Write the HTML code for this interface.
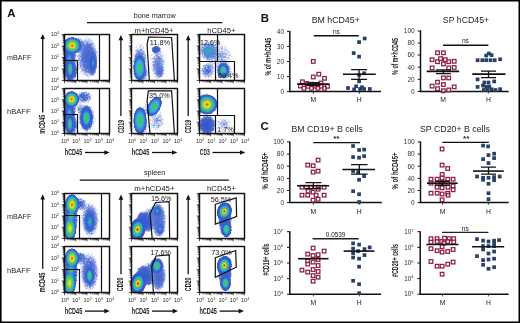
<!DOCTYPE html><html><head><meta charset="utf-8"><style>html,body{margin:0;padding:0;background:#fff;}svg{display:block;will-change:transform;}text{font-family:"Liberation Sans", sans-serif;}</style></head><body>
<svg xmlns="http://www.w3.org/2000/svg" width="520" height="323" viewBox="0 0 520 323">
<defs><radialGradient id="g_red" cx="50%" cy="50%" r="50%"><stop offset="0" stop-color="#d0141c" stop-opacity="1"/><stop offset="0.07" stop-color="#e6361c" stop-opacity="1"/><stop offset="0.13" stop-color="#f09a20" stop-opacity="1"/><stop offset="0.19" stop-color="#ebe22a" stop-opacity="1"/><stop offset="0.27" stop-color="#9ad23c" stop-opacity="1"/><stop offset="0.34" stop-color="#4cc24a" stop-opacity="1"/><stop offset="0.42" stop-color="#36c0a8" stop-opacity="1"/><stop offset="0.5" stop-color="#2eb0dc" stop-opacity="1"/><stop offset="0.6" stop-color="#2f78d4" stop-opacity="1"/><stop offset="0.72" stop-color="#3358c8" stop-opacity="1"/><stop offset="0.86" stop-color="#3858c6" stop-opacity="0.8"/><stop offset="1" stop-color="#5c7ad6" stop-opacity="0"/></radialGradient><radialGradient id="g_orange" cx="50%" cy="50%" r="50%"><stop offset="0" stop-color="#ea4a1a" stop-opacity="1"/><stop offset="0.09" stop-color="#f2b41e" stop-opacity="1"/><stop offset="0.17" stop-color="#e6e42c" stop-opacity="1"/><stop offset="0.27" stop-color="#6cc640" stop-opacity="1"/><stop offset="0.37" stop-color="#36c0a8" stop-opacity="1"/><stop offset="0.47" stop-color="#2eb0dc" stop-opacity="1"/><stop offset="0.58" stop-color="#2f78d4" stop-opacity="1"/><stop offset="0.72" stop-color="#3358c8" stop-opacity="1"/><stop offset="0.86" stop-color="#3858c6" stop-opacity="0.8"/><stop offset="1" stop-color="#5c7ad6" stop-opacity="0"/></radialGradient><radialGradient id="g_yellow" cx="50%" cy="50%" r="50%"><stop offset="0" stop-color="#e4e228" stop-opacity="1"/><stop offset="0.13" stop-color="#b8da34" stop-opacity="1"/><stop offset="0.27" stop-color="#58c446" stop-opacity="1"/><stop offset="0.4" stop-color="#34bcb8" stop-opacity="1"/><stop offset="0.52" stop-color="#2f8ad6" stop-opacity="1"/><stop offset="0.66" stop-color="#3360cc" stop-opacity="1"/><stop offset="0.84" stop-color="#3a5cc8" stop-opacity="0.75"/><stop offset="1" stop-color="#5c7ad6" stop-opacity="0"/></radialGradient><radialGradient id="g_green" cx="50%" cy="50%" r="50%"><stop offset="0" stop-color="#5ac640" stop-opacity="1"/><stop offset="0.18" stop-color="#44c266" stop-opacity="1"/><stop offset="0.32" stop-color="#34bcb0" stop-opacity="1"/><stop offset="0.45" stop-color="#2f9ad8" stop-opacity="1"/><stop offset="0.58" stop-color="#3164cc" stop-opacity="1"/><stop offset="0.8" stop-color="#3a5cc8" stop-opacity="0.75"/><stop offset="1" stop-color="#5c7ad6" stop-opacity="0"/></radialGradient><radialGradient id="g_teal" cx="50%" cy="50%" r="50%"><stop offset="0" stop-color="#38b0b8" stop-opacity="1"/><stop offset="0.25" stop-color="#2f98d0" stop-opacity="1"/><stop offset="0.5" stop-color="#3068cc" stop-opacity="1"/><stop offset="0.78" stop-color="#3a5cc8" stop-opacity="0.75"/><stop offset="1" stop-color="#5c7ad6" stop-opacity="0"/></radialGradient><radialGradient id="g_cyan" cx="50%" cy="50%" r="50%"><stop offset="0" stop-color="#4cb6e4" stop-opacity="1"/><stop offset="0.28" stop-color="#3f8cdc" stop-opacity="1"/><stop offset="0.55" stop-color="#3462cc" stop-opacity="0.95"/><stop offset="0.8" stop-color="#3a5cc8" stop-opacity="0.65"/><stop offset="1" stop-color="#5c7ad6" stop-opacity="0"/></radialGradient><radialGradient id="g_blue" cx="50%" cy="50%" r="50%"><stop offset="0" stop-color="#3356c8" stop-opacity="0.95"/><stop offset="0.5" stop-color="#3a5ecc" stop-opacity="0.85"/><stop offset="0.8" stop-color="#4a6ad0" stop-opacity="0.55"/><stop offset="1" stop-color="#6a86dc" stop-opacity="0"/></radialGradient><radialGradient id="g_lblue" cx="50%" cy="50%" r="50%"><stop offset="0" stop-color="#3f62cc" stop-opacity="0.8"/><stop offset="0.55" stop-color="#4c6cd2" stop-opacity="0.55"/><stop offset="1" stop-color="#7a94e0" stop-opacity="0"/></radialGradient><radialGradient id="g_faint" cx="50%" cy="50%" r="50%"><stop offset="0" stop-color="#5a78d6" stop-opacity="0.55"/><stop offset="0.6" stop-color="#7088da" stop-opacity="0.32"/><stop offset="1" stop-color="#9ab0ea" stop-opacity="0"/></radialGradient><radialGradient id="g_tealspk" cx="50%" cy="50%" r="50%"><stop offset="0" stop-color="#38a8bc" stop-opacity="0.92"/><stop offset="0.4" stop-color="#4690d0" stop-opacity="0.72"/><stop offset="0.75" stop-color="#5a80d8" stop-opacity="0.45"/><stop offset="1" stop-color="#7a94e0" stop-opacity="0"/></radialGradient><radialGradient id="g_mblue" cx="50%" cy="50%" r="50%"><stop offset="0" stop-color="#4262cc" stop-opacity="0.72"/><stop offset="0.5" stop-color="#5272d2" stop-opacity="0.52"/><stop offset="1" stop-color="#7a94e0" stop-opacity="0"/></radialGradient><radialGradient id="g_greencol" cx="50%" cy="50%" r="50%"><stop offset="0" stop-color="#50c450" stop-opacity="0.95"/><stop offset="0.35" stop-color="#3cbf90" stop-opacity="0.85"/><stop offset="0.7" stop-color="#30a8d8" stop-opacity="0.45"/><stop offset="1" stop-color="#3070d0" stop-opacity="0"/></radialGradient><radialGradient id="g_ywide" cx="50%" cy="50%" r="50%"><stop offset="0" stop-color="#e8e428" stop-opacity="1"/><stop offset="0.2" stop-color="#c4dc30" stop-opacity="1"/><stop offset="0.38" stop-color="#6cc840" stop-opacity="1"/><stop offset="0.52" stop-color="#3cc088" stop-opacity="1"/><stop offset="0.64" stop-color="#30acd8" stop-opacity="1"/><stop offset="0.76" stop-color="#3070d0" stop-opacity="1"/><stop offset="0.9" stop-color="#3858c6" stop-opacity="0.75"/><stop offset="1" stop-color="#5c7ad6" stop-opacity="0"/></radialGradient><radialGradient id="g_gwide" cx="50%" cy="50%" r="50%"><stop offset="0" stop-color="#5ac444" stop-opacity="1"/><stop offset="0.22" stop-color="#46c070" stop-opacity="1"/><stop offset="0.38" stop-color="#36bcb0" stop-opacity="1"/><stop offset="0.52" stop-color="#32ace0" stop-opacity="1"/><stop offset="0.66" stop-color="#3a88dc" stop-opacity="1"/><stop offset="0.8" stop-color="#3360cc" stop-opacity="1"/><stop offset="0.92" stop-color="#3858c6" stop-opacity="0.7"/><stop offset="1" stop-color="#5c7ad6" stop-opacity="0"/></radialGradient><radialGradient id="g_wide" cx="50%" cy="50%" r="50%"><stop offset="0" stop-color="#dc2a1c" stop-opacity="1"/><stop offset="0.08" stop-color="#ee6a1e" stop-opacity="1"/><stop offset="0.18" stop-color="#f0d024" stop-opacity="1"/><stop offset="0.3" stop-color="#cfe030" stop-opacity="1"/><stop offset="0.42" stop-color="#72c842" stop-opacity="1"/><stop offset="0.54" stop-color="#40c07a" stop-opacity="1"/><stop offset="0.64" stop-color="#30b0d4" stop-opacity="1"/><stop offset="0.76" stop-color="#3070d0" stop-opacity="1"/><stop offset="0.9" stop-color="#3858c6" stop-opacity="0.75"/><stop offset="1" stop-color="#5c7ad6" stop-opacity="0"/></radialGradient><filter id="dots" filterUnits="userSpaceOnUse" x="0" y="0" width="520" height="323" color-interpolation-filters="sRGB"><feTurbulence type="fractalNoise" baseFrequency="0.6" numOctaves="2" seed="7" result="t"/><feColorMatrix in="t" type="matrix" values="0 0 0 0 0 0 0 0 0 0 0 0 0 0 0 1 0 0 0 0" result="n"/><feComposite in="SourceAlpha" in2="n" operator="arithmetic" k1="0" k2="2.2" k3="1.6" k4="-1.3" result="m"/><feComponentTransfer in="SourceGraphic" result="solid"><feFuncA type="table" tableValues="0 1 1 1 1 1 1 1 1 1 1 1 1 1 1 1 1 1 1 1"/></feComponentTransfer><feComposite in="solid" in2="m" operator="in"/></filter></defs>
<rect width="520" height="323" fill="#fff"/>
<text x="7.2" y="17.3" font-size="11.4" text-anchor="start" font-weight="bold" fill="#111">A</text>
<text x="133.7" y="17.8" font-size="7" text-anchor="start" textLength="42" lengthAdjust="spacingAndGlyphs" fill="#222">bone marrow</text>
<path d="M87 22.7H222.3" stroke="#111" stroke-width="1.3"/>
<text x="134.6" y="32.8" font-size="6.6" text-anchor="start" textLength="38.8" lengthAdjust="spacingAndGlyphs" fill="#222">m+hCD45+</text>
<text x="207.3" y="32.8" font-size="6.6" text-anchor="start" textLength="28.2" lengthAdjust="spacingAndGlyphs" fill="#222">hCD45+</text>
<text x="143.9" y="175.4" font-size="7" text-anchor="start" textLength="21.5" lengthAdjust="spacingAndGlyphs" fill="#222">spleen</text>
<path d="M79.7 180.2H228.9" stroke="#111" stroke-width="1.3"/>
<text x="134.3" y="190.9" font-size="6.6" text-anchor="start" textLength="40.2" lengthAdjust="spacingAndGlyphs" fill="#222">m+hCD45+</text>
<text x="207" y="190.9" font-size="6.6" text-anchor="start" textLength="28.8" lengthAdjust="spacingAndGlyphs" fill="#222">hCD45+</text>
<text x="7" y="59.9" font-size="8" text-anchor="start" textLength="24.4" lengthAdjust="spacingAndGlyphs" fill="#2a2a2a">mBAFF</text>
<text x="7" y="113.9" font-size="8" text-anchor="start" textLength="23.6" lengthAdjust="spacingAndGlyphs" fill="#2a2a2a">hBAFF</text>
<text x="7" y="218.5" font-size="8" text-anchor="start" textLength="24.4" lengthAdjust="spacingAndGlyphs" fill="#2a2a2a">mBAFF</text>
<text x="7" y="272.5" font-size="8" text-anchor="start" textLength="23.6" lengthAdjust="spacingAndGlyphs" fill="#2a2a2a">hBAFF</text>
<path d="M42.7 36.9V112.5" stroke="#111" stroke-width="1.3"/><path d="M42.7 33.9L40.4 39.1L45 39.1Z" fill="#111"/>
<text x="0" y="0" font-size="6.6" font-weight="bold" textLength="18.9" lengthAdjust="spacingAndGlyphs" text-anchor="middle" fill="#222" transform="translate(45.3 124.2) rotate(-90) scale(1 1.25)">mCD45</text>
<path d="M120.9 38V116.1" stroke="#111" stroke-width="1.3"/><path d="M120.9 35L118.6 40.2L123.2 40.2Z" fill="#111"/>
<text x="0" y="0" font-size="6.6" font-weight="bold" textLength="13.4" lengthAdjust="spacingAndGlyphs" text-anchor="middle" fill="#222" transform="translate(123.6 126.5) rotate(-90) scale(1 1.25)">CD19</text>
<path d="M188.2 38V116.1" stroke="#111" stroke-width="1.3"/><path d="M188.2 35L185.9 40.2L190.5 40.2Z" fill="#111"/>
<text x="0" y="0" font-size="6.6" font-weight="bold" textLength="13.4" lengthAdjust="spacingAndGlyphs" text-anchor="middle" fill="#222" transform="translate(190.9 126.5) rotate(-90) scale(1 1.25)">CD19</text>
<path d="M42.7 197.3V268.8" stroke="#111" stroke-width="1.3"/><path d="M42.7 194.3L40.4 199.5L45 199.5Z" fill="#111"/>
<text x="0" y="0" font-size="6.6" font-weight="bold" textLength="19.9" lengthAdjust="spacingAndGlyphs" text-anchor="middle" fill="#222" transform="translate(44.8 282.5) rotate(-90) scale(1 1.25)">mCD45</text>
<path d="M121 197.5V274.2" stroke="#111" stroke-width="1.3"/><path d="M121 194.5L118.7 199.7L123.3 199.7Z" fill="#111"/>
<text x="0" y="0" font-size="6.6" font-weight="bold" textLength="13.9" lengthAdjust="spacingAndGlyphs" text-anchor="middle" fill="#222" transform="translate(123.4 284.3) rotate(-90) scale(1 1.25)">CD20</text>
<path d="M188.2 197.5V274.2" stroke="#111" stroke-width="1.3"/><path d="M188.2 194.5L185.9 199.7L190.5 199.7Z" fill="#111"/>
<text x="0" y="0" font-size="6.6" font-weight="bold" textLength="13.9" lengthAdjust="spacingAndGlyphs" text-anchor="middle" fill="#222" transform="translate(190.6 284.3) rotate(-90) scale(1 1.25)">CD20</text>
<text x="0" y="0" font-size="6.6" font-weight="bold" textLength="17.4" lengthAdjust="spacingAndGlyphs" fill="#222" transform="translate(64.8 154.8) scale(1 1.25)">hCD45</text>
<path d="M85 152.5H106.7" stroke="#111" stroke-width="1.3"/><path d="M109.7 152.5L104.4 150.2L104.4 154.8Z" fill="#111"/>
<text x="0" y="0" font-size="6.6" font-weight="bold" textLength="17.4" lengthAdjust="spacingAndGlyphs" fill="#222" transform="translate(131.8 154.8) scale(1 1.25)">hCD45</text>
<path d="M152 152.5H174.3" stroke="#111" stroke-width="1.3"/><path d="M177.3 152.5L172 150.2L172 154.8Z" fill="#111"/>
<text x="0" y="0" font-size="6.6" font-weight="bold" textLength="10" lengthAdjust="spacingAndGlyphs" fill="#222" transform="translate(199.8 154.8) scale(1 1.25)">CD3</text>
<path d="M212.6 152.5H242.3" stroke="#111" stroke-width="1.3"/><path d="M245.3 152.5L240 150.2L240 154.8Z" fill="#111"/>
<text x="0" y="0" font-size="6.6" font-weight="bold" textLength="17.4" lengthAdjust="spacingAndGlyphs" fill="#222" transform="translate(64.8 313.8) scale(1 1.25)">hCD45</text>
<path d="M85 311.1H106.7" stroke="#111" stroke-width="1.3"/><path d="M109.7 311.1L104.4 308.8L104.4 313.4Z" fill="#111"/>
<text x="0" y="0" font-size="6.6" font-weight="bold" textLength="17.4" lengthAdjust="spacingAndGlyphs" fill="#222" transform="translate(131.8 313.8) scale(1 1.25)">hCD45</text>
<path d="M152 311.1H175" stroke="#111" stroke-width="1.3"/><path d="M178 311.1L172.7 308.8L172.7 313.4Z" fill="#111"/>
<text x="0" y="0" font-size="6.6" font-weight="bold" textLength="17.4" lengthAdjust="spacingAndGlyphs" fill="#222" transform="translate(199.5 313.8) scale(1 1.25)">hCD45</text>
<path d="M219.7 311.1H241" stroke="#111" stroke-width="1.3"/><path d="M244 311.1L238.7 308.8L238.7 313.4Z" fill="#111"/>
<clipPath id="c64_34"><rect x="64.5" y="34.5" width="45" height="46"/></clipPath><g clip-path="url(#c64_34)"><g filter="url(#dots)"><ellipse cx="85.5" cy="57" rx="15" ry="25" fill="url(#g_faint)"/><ellipse cx="88.5" cy="58" rx="10.5" ry="22" fill="url(#g_lblue)"/><ellipse cx="92.5" cy="63" rx="5" ry="14" fill="url(#g_blue)"/><ellipse cx="93" cy="63" rx="2.2" ry="8" fill="url(#g_cyan)"/><ellipse cx="69" cy="60" rx="7.5" ry="24" fill="url(#g_blue)"/><ellipse cx="71" cy="71" rx="7" ry="11" fill="url(#g_blue)"/><ellipse cx="77" cy="45" rx="9" ry="9" fill="url(#g_lblue)"/><ellipse cx="69.5" cy="59" rx="5" ry="11" fill="url(#g_cyan)"/><ellipse cx="72.2" cy="45.5" rx="9.5" ry="8.8" fill="url(#g_wide)"/><ellipse cx="70.1" cy="69" rx="4.5" ry="11.5" fill="url(#g_green)"/></g></g><rect x="64.5" y="34.5" width="45" height="46" fill="none" stroke="#111" stroke-width="1.45"/><path d="M64.5 80.5h-2.8 M64.5 77.0382h-1.8 M64.5 75.0131h-1.8 M64.5 73.5763h-1.8 M64.5 72.4618h-1.8 M64.5 71.5513h-1.8 M64.5 70.7814h-1.8 M64.5 70.1145h-1.8 M64.5 69.5262h-1.8 M64.5 69h-2.8 M64.5 65.5382h-1.8 M64.5 63.5131h-1.8 M64.5 62.0763h-1.8 M64.5 60.9618h-1.8 M64.5 60.0513h-1.8 M64.5 59.2814h-1.8 M64.5 58.6145h-1.8 M64.5 58.0262h-1.8 M64.5 57.5h-2.8 M64.5 54.0382h-1.8 M64.5 52.0131h-1.8 M64.5 50.5763h-1.8 M64.5 49.4618h-1.8 M64.5 48.5513h-1.8 M64.5 47.7814h-1.8 M64.5 47.1145h-1.8 M64.5 46.5262h-1.8 M64.5 46h-2.8 M64.5 42.5382h-1.8 M64.5 40.5131h-1.8 M64.5 39.0763h-1.8 M64.5 37.9618h-1.8 M64.5 37.0513h-1.8 M64.5 36.2814h-1.8 M64.5 35.6145h-1.8 M64.5 35.0262h-1.8 M64.5 34.5h-2.8 M64.5 80.5v2.8 M67.8866 80.5v1.8 M69.8676 80.5v1.8 M71.2732 80.5v1.8 M72.3634 80.5v1.8 M73.2542 80.5v1.8 M74.0074 80.5v1.8 M74.6598 80.5v1.8 M75.2352 80.5v1.8 M75.75 80.5v2.8 M79.1366 80.5v1.8 M81.1176 80.5v1.8 M82.5232 80.5v1.8 M83.6134 80.5v1.8 M84.5042 80.5v1.8 M85.2574 80.5v1.8 M85.9098 80.5v1.8 M86.4852 80.5v1.8 M87 80.5v2.8 M90.3866 80.5v1.8 M92.3676 80.5v1.8 M93.7732 80.5v1.8 M94.8634 80.5v1.8 M95.7542 80.5v1.8 M96.5074 80.5v1.8 M97.1598 80.5v1.8 M97.7352 80.5v1.8 M98.25 80.5v2.8 M101.637 80.5v1.8 M103.618 80.5v1.8 M105.023 80.5v1.8 M106.113 80.5v1.8 M107.004 80.5v1.8 M107.757 80.5v1.8 M108.41 80.5v1.8 M108.985 80.5v1.8 M109.5 80.5v2.8" stroke="#222" stroke-width="0.75" fill="none"/><polygon points="64.5,34.5 99.5,34.5 99.5,80.5 64.5,80.5" fill="none" stroke="#111" stroke-width="1.2"/><polygon points="64.5,60.5 77.5,60.5 77.5,80.5 64.5,80.5" fill="none" stroke="#111" stroke-width="1.2"/><text x="59.1" y="82.4" font-size="5.4" fill="#2a2a2a" text-anchor="end">10<tspan font-size="3.6" dy="-2">0</tspan></text><text x="59.1" y="70.9" font-size="5.4" fill="#2a2a2a" text-anchor="end">10<tspan font-size="3.6" dy="-2">1</tspan></text><text x="59.1" y="59.4" font-size="5.4" fill="#2a2a2a" text-anchor="end">10<tspan font-size="3.6" dy="-2">2</tspan></text><text x="59.1" y="47.9" font-size="5.4" fill="#2a2a2a" text-anchor="end">10<tspan font-size="3.6" dy="-2">3</tspan></text><text x="59.1" y="36.4" font-size="5.4" fill="#2a2a2a" text-anchor="end">10<tspan font-size="3.6" dy="-2">4</tspan></text>
<clipPath id="c64_88"><rect x="64.5" y="88.5" width="45" height="45"/></clipPath><g clip-path="url(#c64_88)"><g filter="url(#dots)"><ellipse cx="84" cy="97" rx="10" ry="7.5" fill="url(#g_lblue)"/><ellipse cx="79" cy="108" rx="5" ry="7" fill="url(#g_faint)"/><ellipse cx="86.4" cy="118" rx="10.5" ry="17.5" fill="url(#g_lblue)"/><ellipse cx="86.4" cy="118" rx="7" ry="13" fill="url(#g_green)"/><ellipse cx="69" cy="113" rx="7.5" ry="23" fill="url(#g_blue)"/><ellipse cx="71" cy="125" rx="7" ry="10" fill="url(#g_blue)"/><ellipse cx="69.5" cy="113" rx="5" ry="10" fill="url(#g_cyan)"/><ellipse cx="71.6" cy="99.3" rx="7.8" ry="8.5" fill="url(#g_wide)"/><ellipse cx="69.9" cy="124" rx="4.2" ry="11" fill="url(#g_green)"/></g></g><rect x="64.5" y="88.5" width="45" height="45" fill="none" stroke="#111" stroke-width="1.45"/><path d="M64.5 133.5h-2.8 M64.5 130.113h-1.8 M64.5 128.132h-1.8 M64.5 126.727h-1.8 M64.5 125.637h-1.8 M64.5 124.746h-1.8 M64.5 123.993h-1.8 M64.5 123.34h-1.8 M64.5 122.765h-1.8 M64.5 122.25h-2.8 M64.5 118.863h-1.8 M64.5 116.882h-1.8 M64.5 115.477h-1.8 M64.5 114.387h-1.8 M64.5 113.496h-1.8 M64.5 112.743h-1.8 M64.5 112.09h-1.8 M64.5 111.515h-1.8 M64.5 111h-2.8 M64.5 107.613h-1.8 M64.5 105.632h-1.8 M64.5 104.227h-1.8 M64.5 103.137h-1.8 M64.5 102.246h-1.8 M64.5 101.493h-1.8 M64.5 100.84h-1.8 M64.5 100.265h-1.8 M64.5 99.75h-2.8 M64.5 96.3634h-1.8 M64.5 94.3824h-1.8 M64.5 92.9768h-1.8 M64.5 91.8866h-1.8 M64.5 90.9958h-1.8 M64.5 90.2426h-1.8 M64.5 89.5902h-1.8 M64.5 89.0148h-1.8 M64.5 88.5h-2.8 M64.5 133.5v2.8 M67.8866 133.5v1.8 M69.8676 133.5v1.8 M71.2732 133.5v1.8 M72.3634 133.5v1.8 M73.2542 133.5v1.8 M74.0074 133.5v1.8 M74.6598 133.5v1.8 M75.2352 133.5v1.8 M75.75 133.5v2.8 M79.1366 133.5v1.8 M81.1176 133.5v1.8 M82.5232 133.5v1.8 M83.6134 133.5v1.8 M84.5042 133.5v1.8 M85.2574 133.5v1.8 M85.9098 133.5v1.8 M86.4852 133.5v1.8 M87 133.5v2.8 M90.3866 133.5v1.8 M92.3676 133.5v1.8 M93.7732 133.5v1.8 M94.8634 133.5v1.8 M95.7542 133.5v1.8 M96.5074 133.5v1.8 M97.1598 133.5v1.8 M97.7352 133.5v1.8 M98.25 133.5v2.8 M101.637 133.5v1.8 M103.618 133.5v1.8 M105.023 133.5v1.8 M106.113 133.5v1.8 M107.004 133.5v1.8 M107.757 133.5v1.8 M108.41 133.5v1.8 M108.985 133.5v1.8 M109.5 133.5v2.8" stroke="#222" stroke-width="0.75" fill="none"/><polygon points="64.5,88.5 99.5,88.5 99.5,133.5 64.5,133.5" fill="none" stroke="#111" stroke-width="1.2"/><polygon points="64.5,114.5 77.5,114.5 77.5,133.5 64.5,133.5" fill="none" stroke="#111" stroke-width="1.2"/><text x="59.1" y="135.4" font-size="5.4" fill="#2a2a2a" text-anchor="end">10<tspan font-size="3.6" dy="-2">0</tspan></text><text x="59.1" y="124.15" font-size="5.4" fill="#2a2a2a" text-anchor="end">10<tspan font-size="3.6" dy="-2">1</tspan></text><text x="59.1" y="112.9" font-size="5.4" fill="#2a2a2a" text-anchor="end">10<tspan font-size="3.6" dy="-2">2</tspan></text><text x="59.1" y="101.65" font-size="5.4" fill="#2a2a2a" text-anchor="end">10<tspan font-size="3.6" dy="-2">3</tspan></text><text x="59.1" y="90.4" font-size="5.4" fill="#2a2a2a" text-anchor="end">10<tspan font-size="3.6" dy="-2">4</tspan></text><text x="65.1" y="143.1" font-size="5.5" fill="#2a2a2a" text-anchor="middle">10<tspan font-size="3.6" dy="-2">0</tspan></text><text x="76.35" y="143.1" font-size="5.5" fill="#2a2a2a" text-anchor="middle">10<tspan font-size="3.6" dy="-2">1</tspan></text><text x="87.6" y="143.1" font-size="5.5" fill="#2a2a2a" text-anchor="middle">10<tspan font-size="3.6" dy="-2">2</tspan></text><text x="98.85" y="143.1" font-size="5.5" fill="#2a2a2a" text-anchor="middle">10<tspan font-size="3.6" dy="-2">3</tspan></text><text x="110.1" y="143.1" font-size="5.5" fill="#2a2a2a" text-anchor="middle">10<tspan font-size="3.6" dy="-2">4</tspan></text>
<clipPath id="c131_34"><rect x="131.5" y="34.5" width="46" height="46"/></clipPath><g clip-path="url(#c131_34)"><g filter="url(#dots)"><ellipse cx="158" cy="62" rx="10" ry="20" fill="url(#g_faint)"/><ellipse cx="158" cy="66" rx="7" ry="14" fill="url(#g_faint)"/><ellipse cx="156" cy="49.5" rx="5" ry="4.2" fill="url(#g_blue)"/><ellipse cx="160" cy="72" rx="5" ry="8" fill="url(#g_mblue)"/><ellipse cx="140" cy="54" rx="8" ry="14" fill="url(#g_faint)"/><ellipse cx="140" cy="65" rx="9" ry="17" fill="url(#g_lblue)"/><ellipse cx="141" cy="74" rx="9.5" ry="8" fill="url(#g_lblue)"/><ellipse cx="139.5" cy="67.8" rx="6.3" ry="13" fill="url(#g_gwide)"/></g></g><rect x="131.5" y="34.5" width="46" height="46" fill="none" stroke="#111" stroke-width="1.45"/><path d="M131.5 80.5h-2.8 M131.5 77.0382h-1.8 M131.5 75.0131h-1.8 M131.5 73.5763h-1.8 M131.5 72.4618h-1.8 M131.5 71.5513h-1.8 M131.5 70.7814h-1.8 M131.5 70.1145h-1.8 M131.5 69.5262h-1.8 M131.5 69h-2.8 M131.5 65.5382h-1.8 M131.5 63.5131h-1.8 M131.5 62.0763h-1.8 M131.5 60.9618h-1.8 M131.5 60.0513h-1.8 M131.5 59.2814h-1.8 M131.5 58.6145h-1.8 M131.5 58.0262h-1.8 M131.5 57.5h-2.8 M131.5 54.0382h-1.8 M131.5 52.0131h-1.8 M131.5 50.5763h-1.8 M131.5 49.4618h-1.8 M131.5 48.5513h-1.8 M131.5 47.7814h-1.8 M131.5 47.1145h-1.8 M131.5 46.5262h-1.8 M131.5 46h-2.8 M131.5 42.5382h-1.8 M131.5 40.5131h-1.8 M131.5 39.0763h-1.8 M131.5 37.9618h-1.8 M131.5 37.0513h-1.8 M131.5 36.2814h-1.8 M131.5 35.6145h-1.8 M131.5 35.0262h-1.8 M131.5 34.5h-2.8 M131.5 80.5v2.8 M134.962 80.5v1.8 M136.987 80.5v1.8 M138.424 80.5v1.8 M139.538 80.5v1.8 M140.449 80.5v1.8 M141.219 80.5v1.8 M141.886 80.5v1.8 M142.474 80.5v1.8 M143 80.5v2.8 M146.462 80.5v1.8 M148.487 80.5v1.8 M149.924 80.5v1.8 M151.038 80.5v1.8 M151.949 80.5v1.8 M152.719 80.5v1.8 M153.386 80.5v1.8 M153.974 80.5v1.8 M154.5 80.5v2.8 M157.962 80.5v1.8 M159.987 80.5v1.8 M161.424 80.5v1.8 M162.538 80.5v1.8 M163.449 80.5v1.8 M164.219 80.5v1.8 M164.886 80.5v1.8 M165.474 80.5v1.8 M166 80.5v2.8 M169.462 80.5v1.8 M171.487 80.5v1.8 M172.924 80.5v1.8 M174.038 80.5v1.8 M174.949 80.5v1.8 M175.719 80.5v1.8 M176.386 80.5v1.8 M176.974 80.5v1.8 M177.5 80.5v2.8" stroke="#222" stroke-width="0.75" fill="none"/><polygon points="148.6,37 171.6,37.5 174.4,80.5 149.3,80.5 147.1,44.5" fill="none" stroke="#111" stroke-width="1.2"/><text x="149.7" y="44.6" font-size="6.7" textLength="20.5" lengthAdjust="spacingAndGlyphs" fill="#1a1a1a">11.8%</text>
<clipPath id="c131_88"><rect x="131.5" y="88.5" width="46" height="45"/></clipPath><g clip-path="url(#c131_88)"><g filter="url(#dots)"><ellipse cx="157" cy="121" rx="10" ry="14" fill="url(#g_faint)"/><ellipse cx="146" cy="110" rx="5" ry="10" fill="url(#g_faint)" transform="rotate(25 146 110)"/><ellipse cx="141" cy="126" rx="9" ry="9" fill="url(#g_lblue)"/><ellipse cx="154.3" cy="106.5" rx="6.5" ry="11" fill="url(#g_gwide)" transform="rotate(30 154.3 106.5)"/><ellipse cx="140" cy="120.5" rx="7" ry="14" fill="url(#g_gwide)"/></g></g><rect x="131.5" y="88.5" width="46" height="45" fill="none" stroke="#111" stroke-width="1.45"/><path d="M131.5 133.5h-2.8 M131.5 130.113h-1.8 M131.5 128.132h-1.8 M131.5 126.727h-1.8 M131.5 125.637h-1.8 M131.5 124.746h-1.8 M131.5 123.993h-1.8 M131.5 123.34h-1.8 M131.5 122.765h-1.8 M131.5 122.25h-2.8 M131.5 118.863h-1.8 M131.5 116.882h-1.8 M131.5 115.477h-1.8 M131.5 114.387h-1.8 M131.5 113.496h-1.8 M131.5 112.743h-1.8 M131.5 112.09h-1.8 M131.5 111.515h-1.8 M131.5 111h-2.8 M131.5 107.613h-1.8 M131.5 105.632h-1.8 M131.5 104.227h-1.8 M131.5 103.137h-1.8 M131.5 102.246h-1.8 M131.5 101.493h-1.8 M131.5 100.84h-1.8 M131.5 100.265h-1.8 M131.5 99.75h-2.8 M131.5 96.3634h-1.8 M131.5 94.3824h-1.8 M131.5 92.9768h-1.8 M131.5 91.8866h-1.8 M131.5 90.9958h-1.8 M131.5 90.2426h-1.8 M131.5 89.5902h-1.8 M131.5 89.0148h-1.8 M131.5 88.5h-2.8 M131.5 133.5v2.8 M134.962 133.5v1.8 M136.987 133.5v1.8 M138.424 133.5v1.8 M139.538 133.5v1.8 M140.449 133.5v1.8 M141.219 133.5v1.8 M141.886 133.5v1.8 M142.474 133.5v1.8 M143 133.5v2.8 M146.462 133.5v1.8 M148.487 133.5v1.8 M149.924 133.5v1.8 M151.038 133.5v1.8 M151.949 133.5v1.8 M152.719 133.5v1.8 M153.386 133.5v1.8 M153.974 133.5v1.8 M154.5 133.5v2.8 M157.962 133.5v1.8 M159.987 133.5v1.8 M161.424 133.5v1.8 M162.538 133.5v1.8 M163.449 133.5v1.8 M164.219 133.5v1.8 M164.886 133.5v1.8 M165.474 133.5v1.8 M166 133.5v2.8 M169.462 133.5v1.8 M171.487 133.5v1.8 M172.924 133.5v1.8 M174.038 133.5v1.8 M174.949 133.5v1.8 M175.719 133.5v1.8 M176.386 133.5v1.8 M176.974 133.5v1.8 M177.5 133.5v2.8" stroke="#222" stroke-width="0.75" fill="none"/><polygon points="148.3,90.8 171.6,90.8 174.4,133.5 150,133.5 147.1,101" fill="none" stroke="#111" stroke-width="1.2"/><text x="149.1" y="98.4" font-size="6.7" textLength="20.5" lengthAdjust="spacingAndGlyphs" fill="#1a1a1a">35.0%</text><text x="132.1" y="143.1" font-size="5.5" fill="#2a2a2a" text-anchor="middle">10<tspan font-size="3.6" dy="-2">0</tspan></text><text x="143.6" y="143.1" font-size="5.5" fill="#2a2a2a" text-anchor="middle">10<tspan font-size="3.6" dy="-2">1</tspan></text><text x="155.1" y="143.1" font-size="5.5" fill="#2a2a2a" text-anchor="middle">10<tspan font-size="3.6" dy="-2">2</tspan></text><text x="166.6" y="143.1" font-size="5.5" fill="#2a2a2a" text-anchor="middle">10<tspan font-size="3.6" dy="-2">3</tspan></text><text x="178.1" y="143.1" font-size="5.5" fill="#2a2a2a" text-anchor="middle">10<tspan font-size="3.6" dy="-2">4</tspan></text>
<clipPath id="c199_34"><rect x="199.5" y="34.5" width="45" height="46"/></clipPath><g clip-path="url(#c199_34)"><g filter="url(#dots)"><ellipse cx="220" cy="56" rx="16" ry="16" fill="url(#g_faint)"/><ellipse cx="208.5" cy="51" rx="10" ry="11" fill="url(#g_tealspk)"/><ellipse cx="207.6" cy="70.5" rx="9" ry="10" fill="url(#g_mblue)"/><ellipse cx="224" cy="71" rx="9" ry="10" fill="url(#g_lblue)"/><ellipse cx="223.3" cy="70.5" rx="6.5" ry="8.5" fill="url(#g_green)"/></g></g><rect x="199.5" y="34.5" width="45" height="46" fill="none" stroke="#111" stroke-width="1.45"/><path d="M199.5 80.5h-2.8 M199.5 77.0382h-1.8 M199.5 75.0131h-1.8 M199.5 73.5763h-1.8 M199.5 72.4618h-1.8 M199.5 71.5513h-1.8 M199.5 70.7814h-1.8 M199.5 70.1145h-1.8 M199.5 69.5262h-1.8 M199.5 69h-2.8 M199.5 65.5382h-1.8 M199.5 63.5131h-1.8 M199.5 62.0763h-1.8 M199.5 60.9618h-1.8 M199.5 60.0513h-1.8 M199.5 59.2814h-1.8 M199.5 58.6145h-1.8 M199.5 58.0262h-1.8 M199.5 57.5h-2.8 M199.5 54.0382h-1.8 M199.5 52.0131h-1.8 M199.5 50.5763h-1.8 M199.5 49.4618h-1.8 M199.5 48.5513h-1.8 M199.5 47.7814h-1.8 M199.5 47.1145h-1.8 M199.5 46.5262h-1.8 M199.5 46h-2.8 M199.5 42.5382h-1.8 M199.5 40.5131h-1.8 M199.5 39.0763h-1.8 M199.5 37.9618h-1.8 M199.5 37.0513h-1.8 M199.5 36.2814h-1.8 M199.5 35.6145h-1.8 M199.5 35.0262h-1.8 M199.5 34.5h-2.8 M199.5 80.5v2.8 M202.887 80.5v1.8 M204.868 80.5v1.8 M206.273 80.5v1.8 M207.363 80.5v1.8 M208.254 80.5v1.8 M209.007 80.5v1.8 M209.66 80.5v1.8 M210.235 80.5v1.8 M210.75 80.5v2.8 M214.137 80.5v1.8 M216.118 80.5v1.8 M217.523 80.5v1.8 M218.613 80.5v1.8 M219.504 80.5v1.8 M220.257 80.5v1.8 M220.91 80.5v1.8 M221.485 80.5v1.8 M222 80.5v2.8 M225.387 80.5v1.8 M227.368 80.5v1.8 M228.773 80.5v1.8 M229.863 80.5v1.8 M230.754 80.5v1.8 M231.507 80.5v1.8 M232.16 80.5v1.8 M232.735 80.5v1.8 M233.25 80.5v2.8 M236.637 80.5v1.8 M238.618 80.5v1.8 M240.023 80.5v1.8 M241.113 80.5v1.8 M242.004 80.5v1.8 M242.757 80.5v1.8 M243.41 80.5v1.8 M243.985 80.5v1.8 M244.5 80.5v2.8" stroke="#222" stroke-width="0.75" fill="none"/><polygon points="199.5,34.5 217.5,34.5 217.5,61.5 199.5,61.5" fill="none" stroke="#111" stroke-width="1.2"/><polygon points="215.5,61.5 234.5,61.5 234.5,80.5 215.5,80.5" fill="none" stroke="#111" stroke-width="1.2"/><text x="200" y="44.8" font-size="6.7" textLength="20.5" lengthAdjust="spacingAndGlyphs" fill="#1a1a1a">12.6%</text><text x="218" y="77.8" font-size="6.7" textLength="20.5" lengthAdjust="spacingAndGlyphs" fill="#1a1a1a">69.4%</text>
<clipPath id="c199_88"><rect x="199.5" y="88.5" width="45" height="45"/></clipPath><g clip-path="url(#c199_88)"><g filter="url(#dots)"><ellipse cx="207" cy="125" rx="9.5" ry="11" fill="url(#g_blue)"/><ellipse cx="224" cy="124" rx="9" ry="9" fill="url(#g_faint)"/><ellipse cx="205" cy="104" rx="11" ry="11" fill="url(#g_blue)"/><ellipse cx="207" cy="104.5" rx="11" ry="10.5" fill="url(#g_wide)"/></g></g><rect x="199.5" y="88.5" width="45" height="45" fill="none" stroke="#111" stroke-width="1.45"/><path d="M199.5 133.5h-2.8 M199.5 130.113h-1.8 M199.5 128.132h-1.8 M199.5 126.727h-1.8 M199.5 125.637h-1.8 M199.5 124.746h-1.8 M199.5 123.993h-1.8 M199.5 123.34h-1.8 M199.5 122.765h-1.8 M199.5 122.25h-2.8 M199.5 118.863h-1.8 M199.5 116.882h-1.8 M199.5 115.477h-1.8 M199.5 114.387h-1.8 M199.5 113.496h-1.8 M199.5 112.743h-1.8 M199.5 112.09h-1.8 M199.5 111.515h-1.8 M199.5 111h-2.8 M199.5 107.613h-1.8 M199.5 105.632h-1.8 M199.5 104.227h-1.8 M199.5 103.137h-1.8 M199.5 102.246h-1.8 M199.5 101.493h-1.8 M199.5 100.84h-1.8 M199.5 100.265h-1.8 M199.5 99.75h-2.8 M199.5 96.3634h-1.8 M199.5 94.3824h-1.8 M199.5 92.9768h-1.8 M199.5 91.8866h-1.8 M199.5 90.9958h-1.8 M199.5 90.2426h-1.8 M199.5 89.5902h-1.8 M199.5 89.0148h-1.8 M199.5 88.5h-2.8 M199.5 133.5v2.8 M202.887 133.5v1.8 M204.868 133.5v1.8 M206.273 133.5v1.8 M207.363 133.5v1.8 M208.254 133.5v1.8 M209.007 133.5v1.8 M209.66 133.5v1.8 M210.235 133.5v1.8 M210.75 133.5v2.8 M214.137 133.5v1.8 M216.118 133.5v1.8 M217.523 133.5v1.8 M218.613 133.5v1.8 M219.504 133.5v1.8 M220.257 133.5v1.8 M220.91 133.5v1.8 M221.485 133.5v1.8 M222 133.5v2.8 M225.387 133.5v1.8 M227.368 133.5v1.8 M228.773 133.5v1.8 M229.863 133.5v1.8 M230.754 133.5v1.8 M231.507 133.5v1.8 M232.16 133.5v1.8 M232.735 133.5v1.8 M233.25 133.5v2.8 M236.637 133.5v1.8 M238.618 133.5v1.8 M240.023 133.5v1.8 M241.113 133.5v1.8 M242.004 133.5v1.8 M242.757 133.5v1.8 M243.41 133.5v1.8 M243.985 133.5v1.8 M244.5 133.5v2.8" stroke="#222" stroke-width="0.75" fill="none"/><polygon points="199.5,88.5 217.5,88.5 217.5,115.5 199.5,115.5" fill="none" stroke="#111" stroke-width="1.2"/><polygon points="215.5,115.5 234.5,115.5 234.5,133.5 215.5,133.5" fill="none" stroke="#111" stroke-width="1.2"/><text x="217" y="131.6" font-size="6.7" textLength="17" lengthAdjust="spacingAndGlyphs" fill="#1a1a1a">1.7%</text><text x="200.1" y="143.1" font-size="5.5" fill="#2a2a2a" text-anchor="middle">10<tspan font-size="3.6" dy="-2">0</tspan></text><text x="211.35" y="143.1" font-size="5.5" fill="#2a2a2a" text-anchor="middle">10<tspan font-size="3.6" dy="-2">1</tspan></text><text x="222.6" y="143.1" font-size="5.5" fill="#2a2a2a" text-anchor="middle">10<tspan font-size="3.6" dy="-2">2</tspan></text><text x="233.85" y="143.1" font-size="5.5" fill="#2a2a2a" text-anchor="middle">10<tspan font-size="3.6" dy="-2">3</tspan></text><text x="245.1" y="143.1" font-size="5.5" fill="#2a2a2a" text-anchor="middle">10<tspan font-size="3.6" dy="-2">4</tspan></text>
<clipPath id="c64_193"><rect x="64.5" y="193.5" width="45" height="45"/></clipPath><g clip-path="url(#c64_193)"><g filter="url(#dots)"><ellipse cx="80" cy="204" rx="8" ry="8" fill="url(#g_lblue)"/><ellipse cx="90" cy="219" rx="12" ry="22" fill="url(#g_faint)"/><ellipse cx="90" cy="220.5" rx="9" ry="18" fill="url(#g_lblue)"/><ellipse cx="89.8" cy="221.7" rx="5.5" ry="11" fill="url(#g_teal)"/><ellipse cx="71" cy="218" rx="7.5" ry="24" fill="url(#g_blue)"/><ellipse cx="72" cy="204.7" rx="7.5" ry="11" fill="url(#g_wide)"/><ellipse cx="70" cy="228.5" rx="6.5" ry="13" fill="url(#g_ywide)"/><ellipse cx="71" cy="216.5" rx="4.5" ry="7" fill="url(#g_greencol)"/></g></g><rect x="64.5" y="193.5" width="45" height="45" fill="none" stroke="#111" stroke-width="1.45"/><path d="M64.5 238.5h-2.8 M64.5 235.113h-1.8 M64.5 233.132h-1.8 M64.5 231.727h-1.8 M64.5 230.637h-1.8 M64.5 229.746h-1.8 M64.5 228.993h-1.8 M64.5 228.34h-1.8 M64.5 227.765h-1.8 M64.5 227.25h-2.8 M64.5 223.863h-1.8 M64.5 221.882h-1.8 M64.5 220.477h-1.8 M64.5 219.387h-1.8 M64.5 218.496h-1.8 M64.5 217.743h-1.8 M64.5 217.09h-1.8 M64.5 216.515h-1.8 M64.5 216h-2.8 M64.5 212.613h-1.8 M64.5 210.632h-1.8 M64.5 209.227h-1.8 M64.5 208.137h-1.8 M64.5 207.246h-1.8 M64.5 206.493h-1.8 M64.5 205.84h-1.8 M64.5 205.265h-1.8 M64.5 204.75h-2.8 M64.5 201.363h-1.8 M64.5 199.382h-1.8 M64.5 197.977h-1.8 M64.5 196.887h-1.8 M64.5 195.996h-1.8 M64.5 195.243h-1.8 M64.5 194.59h-1.8 M64.5 194.015h-1.8 M64.5 193.5h-2.8 M64.5 238.5v2.8 M67.8866 238.5v1.8 M69.8676 238.5v1.8 M71.2732 238.5v1.8 M72.3634 238.5v1.8 M73.2542 238.5v1.8 M74.0074 238.5v1.8 M74.6598 238.5v1.8 M75.2352 238.5v1.8 M75.75 238.5v2.8 M79.1366 238.5v1.8 M81.1176 238.5v1.8 M82.5232 238.5v1.8 M83.6134 238.5v1.8 M84.5042 238.5v1.8 M85.2574 238.5v1.8 M85.9098 238.5v1.8 M86.4852 238.5v1.8 M87 238.5v2.8 M90.3866 238.5v1.8 M92.3676 238.5v1.8 M93.7732 238.5v1.8 M94.8634 238.5v1.8 M95.7542 238.5v1.8 M96.5074 238.5v1.8 M97.1598 238.5v1.8 M97.7352 238.5v1.8 M98.25 238.5v2.8 M101.637 238.5v1.8 M103.618 238.5v1.8 M105.023 238.5v1.8 M106.113 238.5v1.8 M107.004 238.5v1.8 M107.757 238.5v1.8 M108.41 238.5v1.8 M108.985 238.5v1.8 M109.5 238.5v2.8" stroke="#222" stroke-width="0.75" fill="none"/><polygon points="64.5,193.5 101.5,193.5 101.5,238.5 64.5,238.5" fill="none" stroke="#111" stroke-width="1.2"/><polygon points="64.5,215.5 79.5,215.5 79.5,238.5 64.5,238.5" fill="none" stroke="#111" stroke-width="1.2"/><text x="59.1" y="240.4" font-size="5.4" fill="#2a2a2a" text-anchor="end">10<tspan font-size="3.6" dy="-2">0</tspan></text><text x="59.1" y="229.15" font-size="5.4" fill="#2a2a2a" text-anchor="end">10<tspan font-size="3.6" dy="-2">1</tspan></text><text x="59.1" y="217.9" font-size="5.4" fill="#2a2a2a" text-anchor="end">10<tspan font-size="3.6" dy="-2">2</tspan></text><text x="59.1" y="206.65" font-size="5.4" fill="#2a2a2a" text-anchor="end">10<tspan font-size="3.6" dy="-2">3</tspan></text><text x="59.1" y="195.4" font-size="5.4" fill="#2a2a2a" text-anchor="end">10<tspan font-size="3.6" dy="-2">4</tspan></text>
<clipPath id="c64_246"><rect x="64.5" y="246.5" width="45" height="46"/></clipPath><g clip-path="url(#c64_246)"><g filter="url(#dots)"><ellipse cx="80" cy="258" rx="8" ry="8" fill="url(#g_lblue)"/><ellipse cx="89.5" cy="271" rx="12" ry="24" fill="url(#g_faint)"/><ellipse cx="89.5" cy="273" rx="9.5" ry="20" fill="url(#g_lblue)"/><ellipse cx="89.5" cy="275.7" rx="5" ry="10" fill="url(#g_green)"/><ellipse cx="71" cy="272" rx="7.5" ry="24" fill="url(#g_blue)"/><ellipse cx="72" cy="258.3" rx="7.5" ry="10.5" fill="url(#g_wide)"/><ellipse cx="69.6" cy="283" rx="6.5" ry="13.5" fill="url(#g_ywide)"/><ellipse cx="71" cy="270" rx="4.5" ry="7" fill="url(#g_greencol)"/></g></g><rect x="64.5" y="246.5" width="45" height="46" fill="none" stroke="#111" stroke-width="1.45"/><path d="M64.5 292.5h-2.8 M64.5 289.038h-1.8 M64.5 287.013h-1.8 M64.5 285.576h-1.8 M64.5 284.462h-1.8 M64.5 283.551h-1.8 M64.5 282.781h-1.8 M64.5 282.114h-1.8 M64.5 281.526h-1.8 M64.5 281h-2.8 M64.5 277.538h-1.8 M64.5 275.513h-1.8 M64.5 274.076h-1.8 M64.5 272.962h-1.8 M64.5 272.051h-1.8 M64.5 271.281h-1.8 M64.5 270.614h-1.8 M64.5 270.026h-1.8 M64.5 269.5h-2.8 M64.5 266.038h-1.8 M64.5 264.013h-1.8 M64.5 262.576h-1.8 M64.5 261.462h-1.8 M64.5 260.551h-1.8 M64.5 259.781h-1.8 M64.5 259.114h-1.8 M64.5 258.526h-1.8 M64.5 258h-2.8 M64.5 254.538h-1.8 M64.5 252.513h-1.8 M64.5 251.076h-1.8 M64.5 249.962h-1.8 M64.5 249.051h-1.8 M64.5 248.281h-1.8 M64.5 247.614h-1.8 M64.5 247.026h-1.8 M64.5 246.5h-2.8 M64.5 292.5v2.8 M67.8866 292.5v1.8 M69.8676 292.5v1.8 M71.2732 292.5v1.8 M72.3634 292.5v1.8 M73.2542 292.5v1.8 M74.0074 292.5v1.8 M74.6598 292.5v1.8 M75.2352 292.5v1.8 M75.75 292.5v2.8 M79.1366 292.5v1.8 M81.1176 292.5v1.8 M82.5232 292.5v1.8 M83.6134 292.5v1.8 M84.5042 292.5v1.8 M85.2574 292.5v1.8 M85.9098 292.5v1.8 M86.4852 292.5v1.8 M87 292.5v2.8 M90.3866 292.5v1.8 M92.3676 292.5v1.8 M93.7732 292.5v1.8 M94.8634 292.5v1.8 M95.7542 292.5v1.8 M96.5074 292.5v1.8 M97.1598 292.5v1.8 M97.7352 292.5v1.8 M98.25 292.5v2.8 M101.637 292.5v1.8 M103.618 292.5v1.8 M105.023 292.5v1.8 M106.113 292.5v1.8 M107.004 292.5v1.8 M107.757 292.5v1.8 M108.41 292.5v1.8 M108.985 292.5v1.8 M109.5 292.5v2.8" stroke="#222" stroke-width="0.75" fill="none"/><polygon points="64.5,246.5 101.5,246.5 101.5,292.5 64.5,292.5" fill="none" stroke="#111" stroke-width="1.2"/><polygon points="64.5,269.5 79.5,269.5 79.5,292.5 64.5,292.5" fill="none" stroke="#111" stroke-width="1.2"/><text x="59.1" y="294.4" font-size="5.4" fill="#2a2a2a" text-anchor="end">10<tspan font-size="3.6" dy="-2">0</tspan></text><text x="59.1" y="282.9" font-size="5.4" fill="#2a2a2a" text-anchor="end">10<tspan font-size="3.6" dy="-2">1</tspan></text><text x="59.1" y="271.4" font-size="5.4" fill="#2a2a2a" text-anchor="end">10<tspan font-size="3.6" dy="-2">2</tspan></text><text x="59.1" y="259.9" font-size="5.4" fill="#2a2a2a" text-anchor="end">10<tspan font-size="3.6" dy="-2">3</tspan></text><text x="59.1" y="248.4" font-size="5.4" fill="#2a2a2a" text-anchor="end">10<tspan font-size="3.6" dy="-2">4</tspan></text><text x="65.1" y="302.1" font-size="5.5" fill="#2a2a2a" text-anchor="middle">10<tspan font-size="3.6" dy="-2">0</tspan></text><text x="76.35" y="302.1" font-size="5.5" fill="#2a2a2a" text-anchor="middle">10<tspan font-size="3.6" dy="-2">1</tspan></text><text x="87.6" y="302.1" font-size="5.5" fill="#2a2a2a" text-anchor="middle">10<tspan font-size="3.6" dy="-2">2</tspan></text><text x="98.85" y="302.1" font-size="5.5" fill="#2a2a2a" text-anchor="middle">10<tspan font-size="3.6" dy="-2">3</tspan></text><text x="110.1" y="302.1" font-size="5.5" fill="#2a2a2a" text-anchor="middle">10<tspan font-size="3.6" dy="-2">4</tspan></text>
<clipPath id="c131_193"><rect x="131.5" y="193.5" width="46" height="45"/></clipPath><g clip-path="url(#c131_193)"><g filter="url(#dots)"><ellipse cx="158" cy="220" rx="11" ry="20" fill="url(#g_faint)"/><ellipse cx="146" cy="219" rx="16" ry="9" fill="url(#g_lblue)" transform="rotate(-50 146 219)"/><ellipse cx="145" cy="222" rx="8" ry="12" fill="url(#g_blue)" transform="rotate(-30 145 222)"/><ellipse cx="158.5" cy="220" rx="8" ry="18" fill="url(#g_lblue)"/><ellipse cx="157.3" cy="212" rx="8" ry="10" fill="url(#g_mblue)"/><ellipse cx="157.3" cy="211" rx="4.5" ry="5" fill="url(#g_teal)"/><ellipse cx="160" cy="229" rx="6.5" ry="9" fill="url(#g_mblue)"/><ellipse cx="160" cy="229" rx="3.5" ry="5.5" fill="url(#g_cyan)"/><ellipse cx="137.5" cy="229.5" rx="8.5" ry="12.5" fill="url(#g_red)" transform="rotate(12 137.5 229.5)"/></g></g><rect x="131.5" y="193.5" width="46" height="45" fill="none" stroke="#111" stroke-width="1.45"/><path d="M131.5 238.5h-2.8 M131.5 235.113h-1.8 M131.5 233.132h-1.8 M131.5 231.727h-1.8 M131.5 230.637h-1.8 M131.5 229.746h-1.8 M131.5 228.993h-1.8 M131.5 228.34h-1.8 M131.5 227.765h-1.8 M131.5 227.25h-2.8 M131.5 223.863h-1.8 M131.5 221.882h-1.8 M131.5 220.477h-1.8 M131.5 219.387h-1.8 M131.5 218.496h-1.8 M131.5 217.743h-1.8 M131.5 217.09h-1.8 M131.5 216.515h-1.8 M131.5 216h-2.8 M131.5 212.613h-1.8 M131.5 210.632h-1.8 M131.5 209.227h-1.8 M131.5 208.137h-1.8 M131.5 207.246h-1.8 M131.5 206.493h-1.8 M131.5 205.84h-1.8 M131.5 205.265h-1.8 M131.5 204.75h-2.8 M131.5 201.363h-1.8 M131.5 199.382h-1.8 M131.5 197.977h-1.8 M131.5 196.887h-1.8 M131.5 195.996h-1.8 M131.5 195.243h-1.8 M131.5 194.59h-1.8 M131.5 194.015h-1.8 M131.5 193.5h-2.8 M131.5 238.5v2.8 M134.962 238.5v1.8 M136.987 238.5v1.8 M138.424 238.5v1.8 M139.538 238.5v1.8 M140.449 238.5v1.8 M141.219 238.5v1.8 M141.886 238.5v1.8 M142.474 238.5v1.8 M143 238.5v2.8 M146.462 238.5v1.8 M148.487 238.5v1.8 M149.924 238.5v1.8 M151.038 238.5v1.8 M151.949 238.5v1.8 M152.719 238.5v1.8 M153.386 238.5v1.8 M153.974 238.5v1.8 M154.5 238.5v2.8 M157.962 238.5v1.8 M159.987 238.5v1.8 M161.424 238.5v1.8 M162.538 238.5v1.8 M163.449 238.5v1.8 M164.219 238.5v1.8 M164.886 238.5v1.8 M165.474 238.5v1.8 M166 238.5v2.8 M169.462 238.5v1.8 M171.487 238.5v1.8 M172.924 238.5v1.8 M174.038 238.5v1.8 M174.949 238.5v1.8 M175.719 238.5v1.8 M176.386 238.5v1.8 M176.974 238.5v1.8 M177.5 238.5v2.8" stroke="#222" stroke-width="0.75" fill="none"/><polygon points="155.6,202.5 169.2,201.6 169.6,238.5 152.2,238.5 150,213.6" fill="none" stroke="#111" stroke-width="1.2"/><text x="150.9" y="200.6" font-size="6.7" textLength="20.5" lengthAdjust="spacingAndGlyphs" fill="#1a1a1a">15.6%</text>
<clipPath id="c131_246"><rect x="131.5" y="246.5" width="46" height="46"/></clipPath><g clip-path="url(#c131_246)"><g filter="url(#dots)"><ellipse cx="158" cy="274" rx="10" ry="20" fill="url(#g_faint)"/><ellipse cx="146" cy="273" rx="16" ry="9" fill="url(#g_lblue)" transform="rotate(-50 146 273)"/><ellipse cx="145" cy="276" rx="8" ry="12" fill="url(#g_blue)" transform="rotate(-30 145 276)"/><ellipse cx="158.5" cy="276" rx="8" ry="17" fill="url(#g_lblue)"/><ellipse cx="159" cy="278" rx="7" ry="13" fill="url(#g_mblue)"/><ellipse cx="156.8" cy="266" rx="7" ry="9" fill="url(#g_green)"/><ellipse cx="138" cy="283.5" rx="8.5" ry="12.5" fill="url(#g_red)" transform="rotate(12 138 283.5)"/></g></g><rect x="131.5" y="246.5" width="46" height="46" fill="none" stroke="#111" stroke-width="1.45"/><path d="M131.5 292.5h-2.8 M131.5 289.038h-1.8 M131.5 287.013h-1.8 M131.5 285.576h-1.8 M131.5 284.462h-1.8 M131.5 283.551h-1.8 M131.5 282.781h-1.8 M131.5 282.114h-1.8 M131.5 281.526h-1.8 M131.5 281h-2.8 M131.5 277.538h-1.8 M131.5 275.513h-1.8 M131.5 274.076h-1.8 M131.5 272.962h-1.8 M131.5 272.051h-1.8 M131.5 271.281h-1.8 M131.5 270.614h-1.8 M131.5 270.026h-1.8 M131.5 269.5h-2.8 M131.5 266.038h-1.8 M131.5 264.013h-1.8 M131.5 262.576h-1.8 M131.5 261.462h-1.8 M131.5 260.551h-1.8 M131.5 259.781h-1.8 M131.5 259.114h-1.8 M131.5 258.526h-1.8 M131.5 258h-2.8 M131.5 254.538h-1.8 M131.5 252.513h-1.8 M131.5 251.076h-1.8 M131.5 249.962h-1.8 M131.5 249.051h-1.8 M131.5 248.281h-1.8 M131.5 247.614h-1.8 M131.5 247.026h-1.8 M131.5 246.5h-2.8 M131.5 292.5v2.8 M134.962 292.5v1.8 M136.987 292.5v1.8 M138.424 292.5v1.8 M139.538 292.5v1.8 M140.449 292.5v1.8 M141.219 292.5v1.8 M141.886 292.5v1.8 M142.474 292.5v1.8 M143 292.5v2.8 M146.462 292.5v1.8 M148.487 292.5v1.8 M149.924 292.5v1.8 M151.038 292.5v1.8 M151.949 292.5v1.8 M152.719 292.5v1.8 M153.386 292.5v1.8 M153.974 292.5v1.8 M154.5 292.5v2.8 M157.962 292.5v1.8 M159.987 292.5v1.8 M161.424 292.5v1.8 M162.538 292.5v1.8 M163.449 292.5v1.8 M164.219 292.5v1.8 M164.886 292.5v1.8 M165.474 292.5v1.8 M166 292.5v2.8 M169.462 292.5v1.8 M171.487 292.5v1.8 M172.924 292.5v1.8 M174.038 292.5v1.8 M174.949 292.5v1.8 M175.719 292.5v1.8 M176.386 292.5v1.8 M176.974 292.5v1.8 M177.5 292.5v2.8" stroke="#222" stroke-width="0.75" fill="none"/><polygon points="156,256 169.2,254.8 169.6,292.5 153.4,292.5 151.7,266.7" fill="none" stroke="#111" stroke-width="1.2"/><text x="150.5" y="254.6" font-size="6.7" textLength="20.5" lengthAdjust="spacingAndGlyphs" fill="#1a1a1a">17.6%</text><text x="132.1" y="302.1" font-size="5.5" fill="#2a2a2a" text-anchor="middle">10<tspan font-size="3.6" dy="-2">0</tspan></text><text x="143.6" y="302.1" font-size="5.5" fill="#2a2a2a" text-anchor="middle">10<tspan font-size="3.6" dy="-2">1</tspan></text><text x="155.1" y="302.1" font-size="5.5" fill="#2a2a2a" text-anchor="middle">10<tspan font-size="3.6" dy="-2">2</tspan></text><text x="166.6" y="302.1" font-size="5.5" fill="#2a2a2a" text-anchor="middle">10<tspan font-size="3.6" dy="-2">3</tspan></text><text x="178.1" y="302.1" font-size="5.5" fill="#2a2a2a" text-anchor="middle">10<tspan font-size="3.6" dy="-2">4</tspan></text>
<clipPath id="c199_193"><rect x="199.5" y="193.5" width="45" height="45"/></clipPath><g clip-path="url(#c199_193)"><g filter="url(#dots)"><ellipse cx="225" cy="220" rx="7.5" ry="17" fill="url(#g_blue)"/><ellipse cx="224.3" cy="211.5" rx="8" ry="10" fill="url(#g_red)" transform="rotate(15 224.3 211.5)"/><ellipse cx="226.4" cy="229.3" rx="6" ry="9" fill="url(#g_green)"/></g></g><rect x="199.5" y="193.5" width="45" height="45" fill="none" stroke="#111" stroke-width="1.45"/><path d="M199.5 238.5h-2.8 M199.5 235.113h-1.8 M199.5 233.132h-1.8 M199.5 231.727h-1.8 M199.5 230.637h-1.8 M199.5 229.746h-1.8 M199.5 228.993h-1.8 M199.5 228.34h-1.8 M199.5 227.765h-1.8 M199.5 227.25h-2.8 M199.5 223.863h-1.8 M199.5 221.882h-1.8 M199.5 220.477h-1.8 M199.5 219.387h-1.8 M199.5 218.496h-1.8 M199.5 217.743h-1.8 M199.5 217.09h-1.8 M199.5 216.515h-1.8 M199.5 216h-2.8 M199.5 212.613h-1.8 M199.5 210.632h-1.8 M199.5 209.227h-1.8 M199.5 208.137h-1.8 M199.5 207.246h-1.8 M199.5 206.493h-1.8 M199.5 205.84h-1.8 M199.5 205.265h-1.8 M199.5 204.75h-2.8 M199.5 201.363h-1.8 M199.5 199.382h-1.8 M199.5 197.977h-1.8 M199.5 196.887h-1.8 M199.5 195.996h-1.8 M199.5 195.243h-1.8 M199.5 194.59h-1.8 M199.5 194.015h-1.8 M199.5 193.5h-2.8 M199.5 238.5v2.8 M202.887 238.5v1.8 M204.868 238.5v1.8 M206.273 238.5v1.8 M207.363 238.5v1.8 M208.254 238.5v1.8 M209.007 238.5v1.8 M209.66 238.5v1.8 M210.235 238.5v1.8 M210.75 238.5v2.8 M214.137 238.5v1.8 M216.118 238.5v1.8 M217.523 238.5v1.8 M218.613 238.5v1.8 M219.504 238.5v1.8 M220.257 238.5v1.8 M220.91 238.5v1.8 M221.485 238.5v1.8 M222 238.5v2.8 M225.387 238.5v1.8 M227.368 238.5v1.8 M228.773 238.5v1.8 M229.863 238.5v1.8 M230.754 238.5v1.8 M231.507 238.5v1.8 M232.16 238.5v1.8 M232.735 238.5v1.8 M233.25 238.5v2.8 M236.637 238.5v1.8 M238.618 238.5v1.8 M240.023 238.5v1.8 M241.113 238.5v1.8 M242.004 238.5v1.8 M242.757 238.5v1.8 M243.41 238.5v1.8 M243.985 238.5v1.8 M244.5 238.5v2.8" stroke="#222" stroke-width="0.75" fill="none"/><polygon points="215.3,204.2 236.2,197.9 236.6,216.6 215.3,224.1" fill="none" stroke="#111" stroke-width="1.2"/><text x="210.8" y="201.6" font-size="6.7" textLength="20.5" lengthAdjust="spacingAndGlyphs" fill="#1a1a1a">56.5%</text>
<clipPath id="c199_246"><rect x="199.5" y="246.5" width="45" height="46"/></clipPath><g clip-path="url(#c199_246)"><g filter="url(#dots)"><ellipse cx="225" cy="274" rx="7.5" ry="17" fill="url(#g_blue)"/><ellipse cx="224.3" cy="265.5" rx="8" ry="10.5" fill="url(#g_red)" transform="rotate(10 224.3 265.5)"/><ellipse cx="225.5" cy="283" rx="6" ry="9" fill="url(#g_green)"/></g></g><rect x="199.5" y="246.5" width="45" height="46" fill="none" stroke="#111" stroke-width="1.45"/><path d="M199.5 292.5h-2.8 M199.5 289.038h-1.8 M199.5 287.013h-1.8 M199.5 285.576h-1.8 M199.5 284.462h-1.8 M199.5 283.551h-1.8 M199.5 282.781h-1.8 M199.5 282.114h-1.8 M199.5 281.526h-1.8 M199.5 281h-2.8 M199.5 277.538h-1.8 M199.5 275.513h-1.8 M199.5 274.076h-1.8 M199.5 272.962h-1.8 M199.5 272.051h-1.8 M199.5 271.281h-1.8 M199.5 270.614h-1.8 M199.5 270.026h-1.8 M199.5 269.5h-2.8 M199.5 266.038h-1.8 M199.5 264.013h-1.8 M199.5 262.576h-1.8 M199.5 261.462h-1.8 M199.5 260.551h-1.8 M199.5 259.781h-1.8 M199.5 259.114h-1.8 M199.5 258.526h-1.8 M199.5 258h-2.8 M199.5 254.538h-1.8 M199.5 252.513h-1.8 M199.5 251.076h-1.8 M199.5 249.962h-1.8 M199.5 249.051h-1.8 M199.5 248.281h-1.8 M199.5 247.614h-1.8 M199.5 247.026h-1.8 M199.5 246.5h-2.8 M199.5 292.5v2.8 M202.887 292.5v1.8 M204.868 292.5v1.8 M206.273 292.5v1.8 M207.363 292.5v1.8 M208.254 292.5v1.8 M209.007 292.5v1.8 M209.66 292.5v1.8 M210.235 292.5v1.8 M210.75 292.5v2.8 M214.137 292.5v1.8 M216.118 292.5v1.8 M217.523 292.5v1.8 M218.613 292.5v1.8 M219.504 292.5v1.8 M220.257 292.5v1.8 M220.91 292.5v1.8 M221.485 292.5v1.8 M222 292.5v2.8 M225.387 292.5v1.8 M227.368 292.5v1.8 M228.773 292.5v1.8 M229.863 292.5v1.8 M230.754 292.5v1.8 M231.507 292.5v1.8 M232.16 292.5v1.8 M232.735 292.5v1.8 M233.25 292.5v2.8 M236.637 292.5v1.8 M238.618 292.5v1.8 M240.023 292.5v1.8 M241.113 292.5v1.8 M242.004 292.5v1.8 M242.757 292.5v1.8 M243.41 292.5v1.8 M243.985 292.5v1.8 M244.5 292.5v2.8" stroke="#222" stroke-width="0.75" fill="none"/><polygon points="215.3,257.7 235.7,250.5 236.2,267.2 215.3,277.4" fill="none" stroke="#111" stroke-width="1.2"/><text x="211.3" y="254.6" font-size="6.7" textLength="20.5" lengthAdjust="spacingAndGlyphs" fill="#1a1a1a">73.0%</text><text x="200.1" y="302.1" font-size="5.5" fill="#2a2a2a" text-anchor="middle">10<tspan font-size="3.6" dy="-2">0</tspan></text><text x="211.35" y="302.1" font-size="5.5" fill="#2a2a2a" text-anchor="middle">10<tspan font-size="3.6" dy="-2">1</tspan></text><text x="222.6" y="302.1" font-size="5.5" fill="#2a2a2a" text-anchor="middle">10<tspan font-size="3.6" dy="-2">2</tspan></text><text x="233.85" y="302.1" font-size="5.5" fill="#2a2a2a" text-anchor="middle">10<tspan font-size="3.6" dy="-2">3</tspan></text><text x="245.1" y="302.1" font-size="5.5" fill="#2a2a2a" text-anchor="middle">10<tspan font-size="3.6" dy="-2">4</tspan></text>
<text x="260.8" y="22.3" font-size="11.4" text-anchor="start" font-weight="bold" fill="#111">B</text>
<text x="311.7" y="23" font-size="8.6" text-anchor="start" textLength="48.1" lengthAdjust="spacingAndGlyphs" fill="#1e1e1e">BM hCD45+</text>
<text x="442.8" y="23" font-size="8.6" text-anchor="start" textLength="46.4" lengthAdjust="spacingAndGlyphs" fill="#1e1e1e">SP hCD45+</text>
<text x="260.6" y="130.3" font-size="11.4" text-anchor="start" font-weight="bold" fill="#111">C</text>
<text x="291.5" y="131.6" font-size="8.6" text-anchor="start" textLength="71.2" lengthAdjust="spacingAndGlyphs" fill="#1e1e1e">BM CD19+ B cells</text>
<text x="420" y="131.5" font-size="8.6" text-anchor="start" textLength="69.9" lengthAdjust="spacingAndGlyphs" fill="#1e1e1e">SP CD20+ B cells</text>
<path d="M289.8 31V91.6 H381" stroke="#111" stroke-width="1.5" fill="none"/><path d="M287 31.3H289.8" stroke="#111" stroke-width="1"/><text x="284" y="33.6" font-size="6.5" text-anchor="end" fill="#333">40</text><path d="M287 46.4H289.8" stroke="#111" stroke-width="1"/><text x="284" y="48.7" font-size="6.5" text-anchor="end" fill="#333">30</text><path d="M287 61.5H289.8" stroke="#111" stroke-width="1"/><text x="284" y="63.8" font-size="6.5" text-anchor="end" fill="#333">20</text><path d="M287 76.5H289.8" stroke="#111" stroke-width="1"/><text x="284" y="78.8" font-size="6.5" text-anchor="end" fill="#333">10</text><path d="M287 91.6H289.8" stroke="#111" stroke-width="1"/><text x="284" y="93.9" font-size="6.5" text-anchor="end" fill="#333">0</text>
<text x="0" y="0" font-size="7" font-weight="bold" textLength="37.7" lengthAdjust="spacingAndGlyphs" text-anchor="middle" fill="#222" transform="translate(270.8 56.6) rotate(-90) scale(1 1.2)">% of m+hCD45</text>
<path d="M313.4 91.6v2.2 M359.3 91.6v2.2" stroke="#111" stroke-width="0.8"/>
<text x="313.4" y="102" font-size="6.8" text-anchor="middle" fill="#222">M</text>
<text x="359.3" y="102" font-size="6.8" text-anchor="middle" fill="#222">H</text>
<path d="M313.8 35.8H358.8" stroke="#111" stroke-width="1.4"/>
<text x="336.4" y="33.6" font-size="6.6" text-anchor="middle" fill="#1e1e1e">ns</text>
<rect x="311.5" y="59.6" width="3.6" height="3.6" fill="#fff" fill-opacity="0.55" stroke="#8e2046" stroke-width="1.25"/>
<rect x="311.5" y="75.2" width="3.6" height="3.6" fill="#fff" fill-opacity="0.55" stroke="#8e2046" stroke-width="1.25"/>
<rect x="317" y="72.4" width="3.6" height="3.6" fill="#fff" fill-opacity="0.55" stroke="#8e2046" stroke-width="1.25"/>
<rect x="322.7" y="76.5" width="3.6" height="3.6" fill="#fff" fill-opacity="0.55" stroke="#8e2046" stroke-width="1.25"/>
<rect x="300.6" y="80" width="3.6" height="3.6" fill="#fff" fill-opacity="0.55" stroke="#8e2046" stroke-width="1.25"/>
<rect x="305.2" y="81.7" width="3.6" height="3.6" fill="#fff" fill-opacity="0.55" stroke="#8e2046" stroke-width="1.25"/>
<rect x="319.2" y="81.2" width="3.6" height="3.6" fill="#fff" fill-opacity="0.55" stroke="#8e2046" stroke-width="1.25"/>
<rect x="298.7" y="84.2" width="3.6" height="3.6" fill="#fff" fill-opacity="0.55" stroke="#8e2046" stroke-width="1.25"/>
<rect x="302.2" y="86.5" width="3.6" height="3.6" fill="#fff" fill-opacity="0.55" stroke="#8e2046" stroke-width="1.25"/>
<rect x="306.2" y="84.5" width="3.6" height="3.6" fill="#fff" fill-opacity="0.55" stroke="#8e2046" stroke-width="1.25"/>
<rect x="309.7" y="86.5" width="3.6" height="3.6" fill="#fff" fill-opacity="0.55" stroke="#8e2046" stroke-width="1.25"/>
<rect x="313.2" y="84.4" width="3.6" height="3.6" fill="#fff" fill-opacity="0.55" stroke="#8e2046" stroke-width="1.25"/>
<rect x="316.2" y="86.5" width="3.6" height="3.6" fill="#fff" fill-opacity="0.55" stroke="#8e2046" stroke-width="1.25"/>
<rect x="319.4" y="84.4" width="3.6" height="3.6" fill="#fff" fill-opacity="0.55" stroke="#8e2046" stroke-width="1.25"/>
<rect x="322.7" y="86.5" width="3.6" height="3.6" fill="#fff" fill-opacity="0.55" stroke="#8e2046" stroke-width="1.25"/>
<rect x="325.7" y="84.5" width="3.6" height="3.6" fill="#fff" fill-opacity="0.55" stroke="#8e2046" stroke-width="1.25"/>
<rect x="310.2" y="82.4" width="3.6" height="3.6" fill="#fff" fill-opacity="0.55" stroke="#8e2046" stroke-width="1.25"/>
<rect x="315.2" y="82.7" width="3.6" height="3.6" fill="#fff" fill-opacity="0.55" stroke="#8e2046" stroke-width="1.25"/>
<path d="M297.2 84.1H329.3" stroke="#111" stroke-width="1.6"/>
<path d="M306.4 82.8H320.4 M306.4 85.4H320.4 M313.4 82.8V85.4" stroke="#111" stroke-width="1.25"/>
<rect x="362.85" y="36.65" width="3.7" height="3.7" fill="#27406a"/>
<rect x="357.25" y="40.25" width="3.7" height="3.7" fill="#27406a"/>
<rect x="351.85" y="51.25" width="3.7" height="3.7" fill="#27406a"/>
<rect x="357.25" y="54.75" width="3.7" height="3.7" fill="#27406a"/>
<rect x="362.25" y="71.45" width="3.7" height="3.7" fill="#27406a"/>
<rect x="357.25" y="73.05" width="3.7" height="3.7" fill="#27406a"/>
<rect x="357.25" y="79.45" width="3.7" height="3.7" fill="#27406a"/>
<rect x="346.15" y="86.15" width="3.7" height="3.7" fill="#27406a"/>
<rect x="352.25" y="87.55" width="3.7" height="3.7" fill="#27406a"/>
<rect x="354.25" y="84.45" width="3.7" height="3.7" fill="#27406a"/>
<rect x="358.25" y="87.15" width="3.7" height="3.7" fill="#27406a"/>
<rect x="362.25" y="87.15" width="3.7" height="3.7" fill="#27406a"/>
<rect x="367.95" y="87.15" width="3.7" height="3.7" fill="#27406a"/>
<rect x="360.15" y="85.35" width="3.7" height="3.7" fill="#27406a"/>
<path d="M343 74.3H375.8" stroke="#111" stroke-width="1.6"/>
<path d="M351.1 69.6H367.1 M351.1 79.3H367.1 M359.1 69.6V79.3" stroke="#111" stroke-width="1.25"/>
<path d="M420.5 30.5V91.4 H508.7" stroke="#111" stroke-width="1.5" fill="none"/><path d="M417.7 31H420.5" stroke="#111" stroke-width="1"/><text x="414.7" y="33.3" font-size="6.5" text-anchor="end" fill="#333">100</text><path d="M417.7 43H420.5" stroke="#111" stroke-width="1"/><text x="414.7" y="45.3" font-size="6.5" text-anchor="end" fill="#333">80</text><path d="M417.7 55H420.5" stroke="#111" stroke-width="1"/><text x="414.7" y="57.3" font-size="6.5" text-anchor="end" fill="#333">60</text><path d="M417.7 67.2H420.5" stroke="#111" stroke-width="1"/><text x="414.7" y="69.5" font-size="6.5" text-anchor="end" fill="#333">40</text><path d="M417.7 79.3H420.5" stroke="#111" stroke-width="1"/><text x="414.7" y="81.6" font-size="6.5" text-anchor="end" fill="#333">20</text><path d="M417.7 91.4H420.5" stroke="#111" stroke-width="1"/><text x="414.7" y="93.7" font-size="6.5" text-anchor="end" fill="#333">0</text>
<text x="0" y="0" font-size="7" font-weight="bold" textLength="36.5" lengthAdjust="spacingAndGlyphs" text-anchor="middle" fill="#222" transform="translate(398 56.4) rotate(-90) scale(1 1.2)">% of m+hCD45</text>
<path d="M443 91.4v2.2 M488.4 91.4v2.2" stroke="#111" stroke-width="0.8"/>
<text x="443" y="102" font-size="6.8" text-anchor="middle" fill="#222">M</text>
<text x="488.4" y="102" font-size="6.8" text-anchor="middle" fill="#222">H</text>
<path d="M443 45.2H488.4" stroke="#111" stroke-width="1.4"/>
<text x="465.4" y="43.2" font-size="6.6" text-anchor="middle" fill="#1e1e1e">ns</text>
<rect x="435.7" y="51" width="3.6" height="3.6" fill="#fff" fill-opacity="0.55" stroke="#8e2046" stroke-width="1.25"/>
<rect x="441.6" y="51" width="3.6" height="3.6" fill="#fff" fill-opacity="0.55" stroke="#8e2046" stroke-width="1.25"/>
<rect x="430.3" y="57.9" width="3.6" height="3.6" fill="#fff" fill-opacity="0.55" stroke="#8e2046" stroke-width="1.25"/>
<rect x="435.7" y="59.9" width="3.6" height="3.6" fill="#fff" fill-opacity="0.55" stroke="#8e2046" stroke-width="1.25"/>
<rect x="438.8" y="56.8" width="3.6" height="3.6" fill="#fff" fill-opacity="0.55" stroke="#8e2046" stroke-width="1.25"/>
<rect x="443.5" y="57.9" width="3.6" height="3.6" fill="#fff" fill-opacity="0.55" stroke="#8e2046" stroke-width="1.25"/>
<rect x="441.6" y="62.1" width="3.6" height="3.6" fill="#fff" fill-opacity="0.55" stroke="#8e2046" stroke-width="1.25"/>
<rect x="446.9" y="59.9" width="3.6" height="3.6" fill="#fff" fill-opacity="0.55" stroke="#8e2046" stroke-width="1.25"/>
<rect x="452.4" y="59.5" width="3.6" height="3.6" fill="#fff" fill-opacity="0.55" stroke="#8e2046" stroke-width="1.25"/>
<rect x="430.3" y="66.1" width="3.6" height="3.6" fill="#fff" fill-opacity="0.55" stroke="#8e2046" stroke-width="1.25"/>
<rect x="446.9" y="66.1" width="3.6" height="3.6" fill="#fff" fill-opacity="0.55" stroke="#8e2046" stroke-width="1.25"/>
<rect x="452.4" y="65.7" width="3.6" height="3.6" fill="#fff" fill-opacity="0.55" stroke="#8e2046" stroke-width="1.25"/>
<rect x="441.6" y="76.1" width="3.6" height="3.6" fill="#fff" fill-opacity="0.55" stroke="#8e2046" stroke-width="1.25"/>
<rect x="446.9" y="76.1" width="3.6" height="3.6" fill="#fff" fill-opacity="0.55" stroke="#8e2046" stroke-width="1.25"/>
<rect x="435.7" y="80.4" width="3.6" height="3.6" fill="#fff" fill-opacity="0.55" stroke="#8e2046" stroke-width="1.25"/>
<rect x="430.3" y="84.3" width="3.6" height="3.6" fill="#fff" fill-opacity="0.55" stroke="#8e2046" stroke-width="1.25"/>
<rect x="441.6" y="82.7" width="3.6" height="3.6" fill="#fff" fill-opacity="0.55" stroke="#8e2046" stroke-width="1.25"/>
<rect x="435.7" y="86.9" width="3.6" height="3.6" fill="#fff" fill-opacity="0.55" stroke="#8e2046" stroke-width="1.25"/>
<rect x="452.4" y="85.1" width="3.6" height="3.6" fill="#fff" fill-opacity="0.55" stroke="#8e2046" stroke-width="1.25"/>
<rect x="446.9" y="88.2" width="3.6" height="3.6" fill="#fff" fill-opacity="0.55" stroke="#8e2046" stroke-width="1.25"/>
<rect x="441.6" y="88.9" width="3.6" height="3.6" fill="#fff" fill-opacity="0.55" stroke="#8e2046" stroke-width="1.25"/>
<path d="M426.7 71.4H459.2" stroke="#111" stroke-width="1.6"/>
<path d="M435.9 69.8H450.9 M435.9 73.7H450.9 M443.4 69.8V73.7" stroke="#111" stroke-width="1.25"/>
<rect x="484.35" y="53.65" width="3.7" height="3.7" fill="#27406a"/>
<rect x="487.05" y="51.65" width="3.7" height="3.7" fill="#27406a"/>
<rect x="489.75" y="53.25" width="3.7" height="3.7" fill="#27406a"/>
<rect x="475.75" y="58.35" width="3.7" height="3.7" fill="#27406a"/>
<rect x="480.45" y="58.35" width="3.7" height="3.7" fill="#27406a"/>
<rect x="484.35" y="58.35" width="3.7" height="3.7" fill="#27406a"/>
<rect x="488.65" y="58.35" width="3.7" height="3.7" fill="#27406a"/>
<rect x="492.85" y="58.35" width="3.7" height="3.7" fill="#27406a"/>
<rect x="498.25" y="57.45" width="3.7" height="3.7" fill="#27406a"/>
<rect x="475.75" y="77.55" width="3.7" height="3.7" fill="#27406a"/>
<rect x="482.45" y="80.65" width="3.7" height="3.7" fill="#27406a"/>
<rect x="486.65" y="80.65" width="3.7" height="3.7" fill="#27406a"/>
<rect x="492.35" y="79.55" width="3.7" height="3.7" fill="#27406a"/>
<rect x="475.75" y="85.05" width="3.7" height="3.7" fill="#27406a"/>
<rect x="481.15" y="83.75" width="3.7" height="3.7" fill="#27406a"/>
<rect x="484.35" y="85.05" width="3.7" height="3.7" fill="#27406a"/>
<rect x="487.45" y="84.75" width="3.7" height="3.7" fill="#27406a"/>
<rect x="481.95" y="88.15" width="3.7" height="3.7" fill="#27406a"/>
<rect x="485.85" y="88.15" width="3.7" height="3.7" fill="#27406a"/>
<rect x="489.75" y="87.35" width="3.7" height="3.7" fill="#27406a"/>
<rect x="493.65" y="88.15" width="3.7" height="3.7" fill="#27406a"/>
<rect x="498.25" y="87.35" width="3.7" height="3.7" fill="#27406a"/>
<path d="M472.2 74.1H505.5" stroke="#111" stroke-width="1.6"/>
<path d="M481 71H496 M481 77.6H496 M488.5 71V77.6" stroke="#111" stroke-width="1.25"/>
<path d="M289.8 141.5V202.6 H381.8" stroke="#111" stroke-width="1.5" fill="none"/><path d="M287 141.9H289.8" stroke="#111" stroke-width="1"/><text x="284" y="144.2" font-size="6.5" text-anchor="end" fill="#333">100</text><path d="M287 154.1H289.8" stroke="#111" stroke-width="1"/><text x="284" y="156.4" font-size="6.5" text-anchor="end" fill="#333">80</text><path d="M287 166.2H289.8" stroke="#111" stroke-width="1"/><text x="284" y="168.5" font-size="6.5" text-anchor="end" fill="#333">60</text><path d="M287 178.4H289.8" stroke="#111" stroke-width="1"/><text x="284" y="180.7" font-size="6.5" text-anchor="end" fill="#333">40</text><path d="M287 190.5H289.8" stroke="#111" stroke-width="1"/><text x="284" y="192.8" font-size="6.5" text-anchor="end" fill="#333">20</text><path d="M287 202.6H289.8" stroke="#111" stroke-width="1"/><text x="284" y="204.9" font-size="6.5" text-anchor="end" fill="#333">0</text>
<text x="0" y="0" font-size="7" font-weight="bold" textLength="37" lengthAdjust="spacingAndGlyphs" text-anchor="middle" fill="#222" transform="translate(268.2 171) rotate(-90) scale(1 1.2)">% of hCD45+</text>
<path d="M313.4 202.6v2.2 M359.3 202.6v2.2" stroke="#111" stroke-width="0.8"/>
<text x="313.4" y="213.5" font-size="6.8" text-anchor="middle" fill="#222">M</text>
<text x="359.3" y="213.5" font-size="6.8" text-anchor="middle" fill="#222">H</text>
<path d="M313.2 142.6H360" stroke="#111" stroke-width="1.4"/>
<text x="336.3" y="141.2" font-size="8" text-anchor="middle" font-weight="bold" fill="#222">**</text>
<rect x="316.3" y="158.3" width="3.6" height="3.6" fill="#fff" fill-opacity="0.55" stroke="#8e2046" stroke-width="1.25"/>
<rect x="305.9" y="163.3" width="3.6" height="3.6" fill="#fff" fill-opacity="0.55" stroke="#8e2046" stroke-width="1.25"/>
<rect x="311.3" y="163.9" width="3.6" height="3.6" fill="#fff" fill-opacity="0.55" stroke="#8e2046" stroke-width="1.25"/>
<rect x="311.3" y="170.3" width="3.6" height="3.6" fill="#fff" fill-opacity="0.55" stroke="#8e2046" stroke-width="1.25"/>
<rect x="316.3" y="169.3" width="3.6" height="3.6" fill="#fff" fill-opacity="0.55" stroke="#8e2046" stroke-width="1.25"/>
<rect x="300.2" y="185.4" width="3.6" height="3.6" fill="#fff" fill-opacity="0.55" stroke="#8e2046" stroke-width="1.25"/>
<rect x="304.7" y="185.4" width="3.6" height="3.6" fill="#fff" fill-opacity="0.55" stroke="#8e2046" stroke-width="1.25"/>
<rect x="309.3" y="185.4" width="3.6" height="3.6" fill="#fff" fill-opacity="0.55" stroke="#8e2046" stroke-width="1.25"/>
<rect x="316.3" y="185.4" width="3.6" height="3.6" fill="#fff" fill-opacity="0.55" stroke="#8e2046" stroke-width="1.25"/>
<rect x="322.3" y="185.4" width="3.6" height="3.6" fill="#fff" fill-opacity="0.55" stroke="#8e2046" stroke-width="1.25"/>
<rect x="306.3" y="189.4" width="3.6" height="3.6" fill="#fff" fill-opacity="0.55" stroke="#8e2046" stroke-width="1.25"/>
<rect x="311.3" y="190.4" width="3.6" height="3.6" fill="#fff" fill-opacity="0.55" stroke="#8e2046" stroke-width="1.25"/>
<rect x="316.3" y="187.4" width="3.6" height="3.6" fill="#fff" fill-opacity="0.55" stroke="#8e2046" stroke-width="1.25"/>
<rect x="300.2" y="193.4" width="3.6" height="3.6" fill="#fff" fill-opacity="0.55" stroke="#8e2046" stroke-width="1.25"/>
<rect x="305.9" y="193.4" width="3.6" height="3.6" fill="#fff" fill-opacity="0.55" stroke="#8e2046" stroke-width="1.25"/>
<rect x="314.3" y="193.4" width="3.6" height="3.6" fill="#fff" fill-opacity="0.55" stroke="#8e2046" stroke-width="1.25"/>
<rect x="322.3" y="193.4" width="3.6" height="3.6" fill="#fff" fill-opacity="0.55" stroke="#8e2046" stroke-width="1.25"/>
<rect x="311.3" y="198.4" width="3.6" height="3.6" fill="#fff" fill-opacity="0.55" stroke="#8e2046" stroke-width="1.25"/>
<rect x="316.3" y="197.4" width="3.6" height="3.6" fill="#fff" fill-opacity="0.55" stroke="#8e2046" stroke-width="1.25"/>
<path d="M297 185.8H329.1" stroke="#111" stroke-width="1.6"/>
<path d="M305.4 182.6H321.4 M305.4 188.5H321.4 M313.4 182.6V188.5" stroke="#111" stroke-width="1.25"/>
<rect x="351.25" y="144.15" width="3.7" height="3.7" fill="#27406a"/>
<rect x="357.25" y="148.15" width="3.7" height="3.7" fill="#27406a"/>
<rect x="362.25" y="147.75" width="3.7" height="3.7" fill="#27406a"/>
<rect x="351.25" y="155.25" width="3.7" height="3.7" fill="#27406a"/>
<rect x="357.25" y="155.85" width="3.7" height="3.7" fill="#27406a"/>
<rect x="362.25" y="154.25" width="3.7" height="3.7" fill="#27406a"/>
<rect x="351.25" y="169.25" width="3.7" height="3.7" fill="#27406a"/>
<rect x="356.25" y="170.25" width="3.7" height="3.7" fill="#27406a"/>
<rect x="362.25" y="174.25" width="3.7" height="3.7" fill="#27406a"/>
<rect x="357.25" y="177.95" width="3.7" height="3.7" fill="#27406a"/>
<rect x="351.25" y="189.35" width="3.7" height="3.7" fill="#27406a"/>
<rect x="357.25" y="192.35" width="3.7" height="3.7" fill="#27406a"/>
<rect x="357.25" y="200.15" width="3.7" height="3.7" fill="#27406a"/>
<path d="M342.4 169.5H375.1" stroke="#111" stroke-width="1.6"/>
<path d="M351 164.5H367.6 M351 174H367.6 M359.3 164.5V174" stroke="#111" stroke-width="1.25"/>
<path d="M420.5 141.5V202.6 H508.7" stroke="#111" stroke-width="1.5" fill="none"/><path d="M417.7 141.9H420.5" stroke="#111" stroke-width="1"/><text x="414.7" y="144.2" font-size="6.5" text-anchor="end" fill="#333">100</text><path d="M417.7 154.1H420.5" stroke="#111" stroke-width="1"/><text x="414.7" y="156.4" font-size="6.5" text-anchor="end" fill="#333">80</text><path d="M417.7 166.2H420.5" stroke="#111" stroke-width="1"/><text x="414.7" y="168.5" font-size="6.5" text-anchor="end" fill="#333">60</text><path d="M417.7 178.4H420.5" stroke="#111" stroke-width="1"/><text x="414.7" y="180.7" font-size="6.5" text-anchor="end" fill="#333">40</text><path d="M417.7 190.5H420.5" stroke="#111" stroke-width="1"/><text x="414.7" y="192.8" font-size="6.5" text-anchor="end" fill="#333">20</text><path d="M417.7 202.6H420.5" stroke="#111" stroke-width="1"/><text x="414.7" y="204.9" font-size="6.5" text-anchor="end" fill="#333">0</text>
<text x="0" y="0" font-size="7" font-weight="bold" textLength="37" lengthAdjust="spacingAndGlyphs" text-anchor="middle" fill="#222" transform="translate(398 171) rotate(-90) scale(1 1.2)">% of hCD45+</text>
<path d="M442.6 202.6v2.2 M488.4 202.6v2.2" stroke="#111" stroke-width="0.8"/>
<text x="442.6" y="213.5" font-size="6.8" text-anchor="middle" fill="#222">M</text>
<text x="488.4" y="213.5" font-size="6.8" text-anchor="middle" fill="#222">H</text>
<path d="M442.3 142.4H488.8" stroke="#111" stroke-width="1.4"/>
<text x="466.2" y="141" font-size="8" text-anchor="middle" font-weight="bold" fill="#222">**</text>
<rect x="440.3" y="147.2" width="3.6" height="3.6" fill="#fff" fill-opacity="0.55" stroke="#8e2046" stroke-width="1.25"/>
<rect x="440.3" y="163.3" width="3.6" height="3.6" fill="#fff" fill-opacity="0.55" stroke="#8e2046" stroke-width="1.25"/>
<rect x="445.9" y="166.7" width="3.6" height="3.6" fill="#fff" fill-opacity="0.55" stroke="#8e2046" stroke-width="1.25"/>
<rect x="440.3" y="172.7" width="3.6" height="3.6" fill="#fff" fill-opacity="0.55" stroke="#8e2046" stroke-width="1.25"/>
<rect x="429.2" y="177.4" width="3.6" height="3.6" fill="#fff" fill-opacity="0.55" stroke="#8e2046" stroke-width="1.25"/>
<rect x="435.3" y="177.4" width="3.6" height="3.6" fill="#fff" fill-opacity="0.55" stroke="#8e2046" stroke-width="1.25"/>
<rect x="440.3" y="176.2" width="3.6" height="3.6" fill="#fff" fill-opacity="0.55" stroke="#8e2046" stroke-width="1.25"/>
<rect x="445.9" y="177.4" width="3.6" height="3.6" fill="#fff" fill-opacity="0.55" stroke="#8e2046" stroke-width="1.25"/>
<rect x="451.3" y="177.4" width="3.6" height="3.6" fill="#fff" fill-opacity="0.55" stroke="#8e2046" stroke-width="1.25"/>
<rect x="429.2" y="181.4" width="3.6" height="3.6" fill="#fff" fill-opacity="0.55" stroke="#8e2046" stroke-width="1.25"/>
<rect x="435.3" y="181.4" width="3.6" height="3.6" fill="#fff" fill-opacity="0.55" stroke="#8e2046" stroke-width="1.25"/>
<rect x="440.3" y="180.7" width="3.6" height="3.6" fill="#fff" fill-opacity="0.55" stroke="#8e2046" stroke-width="1.25"/>
<rect x="445.9" y="181.4" width="3.6" height="3.6" fill="#fff" fill-opacity="0.55" stroke="#8e2046" stroke-width="1.25"/>
<rect x="451.3" y="184.2" width="3.6" height="3.6" fill="#fff" fill-opacity="0.55" stroke="#8e2046" stroke-width="1.25"/>
<rect x="435.3" y="185.4" width="3.6" height="3.6" fill="#fff" fill-opacity="0.55" stroke="#8e2046" stroke-width="1.25"/>
<rect x="440.3" y="186" width="3.6" height="3.6" fill="#fff" fill-opacity="0.55" stroke="#8e2046" stroke-width="1.25"/>
<rect x="446.2" y="185.4" width="3.6" height="3.6" fill="#fff" fill-opacity="0.55" stroke="#8e2046" stroke-width="1.25"/>
<rect x="451.3" y="188" width="3.6" height="3.6" fill="#fff" fill-opacity="0.55" stroke="#8e2046" stroke-width="1.25"/>
<rect x="429.2" y="191.4" width="3.6" height="3.6" fill="#fff" fill-opacity="0.55" stroke="#8e2046" stroke-width="1.25"/>
<rect x="435.3" y="191.4" width="3.6" height="3.6" fill="#fff" fill-opacity="0.55" stroke="#8e2046" stroke-width="1.25"/>
<rect x="440.3" y="192.2" width="3.6" height="3.6" fill="#fff" fill-opacity="0.55" stroke="#8e2046" stroke-width="1.25"/>
<rect x="445.9" y="191.4" width="3.6" height="3.6" fill="#fff" fill-opacity="0.55" stroke="#8e2046" stroke-width="1.25"/>
<rect x="446.3" y="193.4" width="3.6" height="3.6" fill="#fff" fill-opacity="0.55" stroke="#8e2046" stroke-width="1.25"/>
<rect x="440.3" y="198" width="3.6" height="3.6" fill="#fff" fill-opacity="0.55" stroke="#8e2046" stroke-width="1.25"/>
<path d="M427 183.2H457.7" stroke="#111" stroke-width="1.6"/>
<path d="M435.4 181.3H449.4 M435.4 185.3H449.4 M442.4 181.3V185.3" stroke="#111" stroke-width="1.25"/>
<rect x="481.25" y="143.75" width="3.7" height="3.7" fill="#27406a"/>
<rect x="486.25" y="144.55" width="3.7" height="3.7" fill="#27406a"/>
<rect x="486.65" y="153.25" width="3.7" height="3.7" fill="#27406a"/>
<rect x="492.25" y="151.85" width="3.7" height="3.7" fill="#27406a"/>
<rect x="481.25" y="157.25" width="3.7" height="3.7" fill="#27406a"/>
<rect x="492.25" y="156.25" width="3.7" height="3.7" fill="#27406a"/>
<rect x="486.65" y="161.25" width="3.7" height="3.7" fill="#27406a"/>
<rect x="475.15" y="174.65" width="3.7" height="3.7" fill="#27406a"/>
<rect x="481.25" y="175.95" width="3.7" height="3.7" fill="#27406a"/>
<rect x="486.65" y="175.95" width="3.7" height="3.7" fill="#27406a"/>
<rect x="492.25" y="175.25" width="3.7" height="3.7" fill="#27406a"/>
<rect x="497.85" y="174.65" width="3.7" height="3.7" fill="#27406a"/>
<rect x="481.25" y="177.95" width="3.7" height="3.7" fill="#27406a"/>
<rect x="492.25" y="178.35" width="3.7" height="3.7" fill="#27406a"/>
<rect x="486.65" y="181.95" width="3.7" height="3.7" fill="#27406a"/>
<rect x="486.65" y="191.35" width="3.7" height="3.7" fill="#27406a"/>
<rect x="486.65" y="197.35" width="3.7" height="3.7" fill="#27406a"/>
<path d="M473 171.1H503.8" stroke="#111" stroke-width="1.6"/>
<path d="M481 167.1H496 M481 174.1H496 M488.5 167.1V174.1" stroke="#111" stroke-width="1.25"/>
<path d="M289.8 231.3V294.2 H381" stroke="#111" stroke-width="1.5" fill="none"/><path d="M287 231.7H289.8" stroke="#111" stroke-width="1"/><text x="283.2" y="233.9" font-size="6.3" text-anchor="end" fill="#2a2a2a">10<tspan font-size="4.2" dy="-2.4">7</tspan></text><path d="M287 247.4H289.8" stroke="#111" stroke-width="1"/><text x="283.2" y="249.6" font-size="6.3" text-anchor="end" fill="#2a2a2a">10<tspan font-size="4.2" dy="-2.4">6</tspan></text><path d="M287 263H289.8" stroke="#111" stroke-width="1"/><text x="283.2" y="265.2" font-size="6.3" text-anchor="end" fill="#2a2a2a">10<tspan font-size="4.2" dy="-2.4">5</tspan></text><path d="M287 278.6H289.8" stroke="#111" stroke-width="1"/><text x="283.2" y="280.8" font-size="6.3" text-anchor="end" fill="#2a2a2a">10<tspan font-size="4.2" dy="-2.4">4</tspan></text><path d="M287 294.2H289.8" stroke="#111" stroke-width="1"/><text x="283.2" y="296.4" font-size="6.3" text-anchor="end" fill="#2a2a2a">10<tspan font-size="4.2" dy="-2.4">3</tspan></text>
<text x="0" y="0" font-size="7" font-weight="bold" textLength="32" lengthAdjust="spacingAndGlyphs" text-anchor="middle" fill="#222" transform="translate(269.2 259.5) rotate(-90) scale(1 1.2)">#CD19+ cells</text>
<path d="M313.4 294.2v2.2 M359.3 294.2v2.2" stroke="#111" stroke-width="0.8"/>
<text x="313.4" y="305" font-size="6.8" text-anchor="middle" fill="#222">M</text>
<text x="359.3" y="305" font-size="6.8" text-anchor="middle" fill="#222">H</text>
<path d="M312.6 238.7H358.7" stroke="#222" stroke-width="1.4"/>
<text x="335.6" y="236.8" font-size="6.4" text-anchor="middle" fill="#222">0.0539</text>
<rect x="311.3" y="246.3" width="3.6" height="3.6" fill="#fff" fill-opacity="0.55" stroke="#8e2046" stroke-width="1.25"/>
<rect x="322.3" y="249.3" width="3.6" height="3.6" fill="#fff" fill-opacity="0.55" stroke="#8e2046" stroke-width="1.25"/>
<rect x="305.9" y="252.3" width="3.6" height="3.6" fill="#fff" fill-opacity="0.55" stroke="#8e2046" stroke-width="1.25"/>
<rect x="311.3" y="253.7" width="3.6" height="3.6" fill="#fff" fill-opacity="0.55" stroke="#8e2046" stroke-width="1.25"/>
<rect x="316.3" y="252.9" width="3.6" height="3.6" fill="#fff" fill-opacity="0.55" stroke="#8e2046" stroke-width="1.25"/>
<rect x="305.9" y="259.3" width="3.6" height="3.6" fill="#fff" fill-opacity="0.55" stroke="#8e2046" stroke-width="1.25"/>
<rect x="305.9" y="262.3" width="3.6" height="3.6" fill="#fff" fill-opacity="0.55" stroke="#8e2046" stroke-width="1.25"/>
<rect x="311.3" y="260.3" width="3.6" height="3.6" fill="#fff" fill-opacity="0.55" stroke="#8e2046" stroke-width="1.25"/>
<rect x="316.3" y="257.7" width="3.6" height="3.6" fill="#fff" fill-opacity="0.55" stroke="#8e2046" stroke-width="1.25"/>
<rect x="316.3" y="263.7" width="3.6" height="3.6" fill="#fff" fill-opacity="0.55" stroke="#8e2046" stroke-width="1.25"/>
<rect x="300.2" y="268.3" width="3.6" height="3.6" fill="#fff" fill-opacity="0.55" stroke="#8e2046" stroke-width="1.25"/>
<rect x="305.9" y="270.3" width="3.6" height="3.6" fill="#fff" fill-opacity="0.55" stroke="#8e2046" stroke-width="1.25"/>
<rect x="311.3" y="267.7" width="3.6" height="3.6" fill="#fff" fill-opacity="0.55" stroke="#8e2046" stroke-width="1.25"/>
<rect x="316.3" y="269.7" width="3.6" height="3.6" fill="#fff" fill-opacity="0.55" stroke="#8e2046" stroke-width="1.25"/>
<rect x="311.3" y="273.8" width="3.6" height="3.6" fill="#fff" fill-opacity="0.55" stroke="#8e2046" stroke-width="1.25"/>
<rect x="316.3" y="275.4" width="3.6" height="3.6" fill="#fff" fill-opacity="0.55" stroke="#8e2046" stroke-width="1.25"/>
<rect x="311.3" y="279.4" width="3.6" height="3.6" fill="#fff" fill-opacity="0.55" stroke="#8e2046" stroke-width="1.25"/>
<path d="M298 258.7H328.5" stroke="#111" stroke-width="1.6"/>
<rect x="351.25" y="241.55" width="3.7" height="3.7" fill="#27406a"/>
<rect x="357.25" y="242.75" width="3.7" height="3.7" fill="#27406a"/>
<rect x="367.85" y="245.55" width="3.7" height="3.7" fill="#27406a"/>
<rect x="351.25" y="246.85" width="3.7" height="3.7" fill="#27406a"/>
<rect x="362.65" y="247.25" width="3.7" height="3.7" fill="#27406a"/>
<rect x="356.25" y="249.25" width="3.7" height="3.7" fill="#27406a"/>
<rect x="351.25" y="251.25" width="3.7" height="3.7" fill="#27406a"/>
<rect x="362.65" y="253.25" width="3.7" height="3.7" fill="#27406a"/>
<rect x="351.25" y="255.65" width="3.7" height="3.7" fill="#27406a"/>
<rect x="357.25" y="256.85" width="3.7" height="3.7" fill="#27406a"/>
<rect x="357.25" y="264.85" width="3.7" height="3.7" fill="#27406a"/>
<rect x="351.25" y="278.95" width="3.7" height="3.7" fill="#27406a"/>
<rect x="357.25" y="282.35" width="3.7" height="3.7" fill="#27406a"/>
<rect x="357.25" y="291.35" width="3.7" height="3.7" fill="#27406a"/>
<path d="M343.6 251.1H374.5" stroke="#111" stroke-width="1.6"/>
<path d="M420.2 231.3V294.2 H508.7" stroke="#111" stroke-width="1.5" fill="none"/><path d="M417.4 231.7H420.2" stroke="#111" stroke-width="1"/><text x="413.6" y="233.9" font-size="6.3" text-anchor="end" fill="#2a2a2a">10<tspan font-size="4.2" dy="-2.4">7</tspan></text><path d="M417.4 247.4H420.2" stroke="#111" stroke-width="1"/><text x="413.6" y="249.6" font-size="6.3" text-anchor="end" fill="#2a2a2a">10<tspan font-size="4.2" dy="-2.4">6</tspan></text><path d="M417.4 263H420.2" stroke="#111" stroke-width="1"/><text x="413.6" y="265.2" font-size="6.3" text-anchor="end" fill="#2a2a2a">10<tspan font-size="4.2" dy="-2.4">5</tspan></text><path d="M417.4 278.6H420.2" stroke="#111" stroke-width="1"/><text x="413.6" y="280.8" font-size="6.3" text-anchor="end" fill="#2a2a2a">10<tspan font-size="4.2" dy="-2.4">4</tspan></text><path d="M417.4 294.2H420.2" stroke="#111" stroke-width="1"/><text x="413.6" y="296.4" font-size="6.3" text-anchor="end" fill="#2a2a2a">10<tspan font-size="4.2" dy="-2.4">3</tspan></text>
<text x="0" y="0" font-size="7" font-weight="bold" textLength="33" lengthAdjust="spacingAndGlyphs" text-anchor="middle" fill="#222" transform="translate(398.4 260.5) rotate(-90) scale(1 1.2)">#CD20+ cells</text>
<path d="M442.6 294.2v2.2 M488.4 294.2v2.2" stroke="#111" stroke-width="0.8"/>
<text x="442.6" y="305" font-size="6.8" text-anchor="middle" fill="#222">M</text>
<text x="488.4" y="305" font-size="6.8" text-anchor="middle" fill="#222">H</text>
<path d="M442 232.4H488.4" stroke="#222" stroke-width="1.4"/>
<text x="465.3" y="230.6" font-size="6.6" text-anchor="middle" fill="#1e1e1e">ns</text>
<rect x="429.2" y="236.9" width="3.6" height="3.6" fill="#fff" fill-opacity="0.55" stroke="#8e2046" stroke-width="1.25"/>
<rect x="435.3" y="236.9" width="3.6" height="3.6" fill="#fff" fill-opacity="0.55" stroke="#8e2046" stroke-width="1.25"/>
<rect x="442.7" y="236.4" width="3.6" height="3.6" fill="#fff" fill-opacity="0.55" stroke="#8e2046" stroke-width="1.25"/>
<rect x="447.3" y="236.9" width="3.6" height="3.6" fill="#fff" fill-opacity="0.55" stroke="#8e2046" stroke-width="1.25"/>
<rect x="451.9" y="236.9" width="3.6" height="3.6" fill="#fff" fill-opacity="0.55" stroke="#8e2046" stroke-width="1.25"/>
<rect x="429.2" y="240.4" width="3.6" height="3.6" fill="#fff" fill-opacity="0.55" stroke="#8e2046" stroke-width="1.25"/>
<rect x="435.3" y="239.7" width="3.6" height="3.6" fill="#fff" fill-opacity="0.55" stroke="#8e2046" stroke-width="1.25"/>
<rect x="439.9" y="239.7" width="3.6" height="3.6" fill="#fff" fill-opacity="0.55" stroke="#8e2046" stroke-width="1.25"/>
<rect x="445.9" y="239.7" width="3.6" height="3.6" fill="#fff" fill-opacity="0.55" stroke="#8e2046" stroke-width="1.25"/>
<rect x="451.9" y="240.2" width="3.6" height="3.6" fill="#fff" fill-opacity="0.55" stroke="#8e2046" stroke-width="1.25"/>
<rect x="442.2" y="241.2" width="3.6" height="3.6" fill="#fff" fill-opacity="0.55" stroke="#8e2046" stroke-width="1.25"/>
<rect x="429.2" y="246.9" width="3.6" height="3.6" fill="#fff" fill-opacity="0.55" stroke="#8e2046" stroke-width="1.25"/>
<rect x="435.3" y="248.9" width="3.6" height="3.6" fill="#fff" fill-opacity="0.55" stroke="#8e2046" stroke-width="1.25"/>
<rect x="440.3" y="250.3" width="3.6" height="3.6" fill="#fff" fill-opacity="0.55" stroke="#8e2046" stroke-width="1.25"/>
<rect x="445.9" y="249.7" width="3.6" height="3.6" fill="#fff" fill-opacity="0.55" stroke="#8e2046" stroke-width="1.25"/>
<rect x="451.3" y="247.7" width="3.6" height="3.6" fill="#fff" fill-opacity="0.55" stroke="#8e2046" stroke-width="1.25"/>
<rect x="440.3" y="244.9" width="3.6" height="3.6" fill="#fff" fill-opacity="0.55" stroke="#8e2046" stroke-width="1.25"/>
<rect x="429.2" y="259.7" width="3.6" height="3.6" fill="#fff" fill-opacity="0.55" stroke="#8e2046" stroke-width="1.25"/>
<rect x="435.3" y="264.4" width="3.6" height="3.6" fill="#fff" fill-opacity="0.55" stroke="#8e2046" stroke-width="1.25"/>
<rect x="440.3" y="264.4" width="3.6" height="3.6" fill="#fff" fill-opacity="0.55" stroke="#8e2046" stroke-width="1.25"/>
<rect x="445.9" y="262.4" width="3.6" height="3.6" fill="#fff" fill-opacity="0.55" stroke="#8e2046" stroke-width="1.25"/>
<rect x="451.3" y="260.3" width="3.6" height="3.6" fill="#fff" fill-opacity="0.55" stroke="#8e2046" stroke-width="1.25"/>
<rect x="440.3" y="272.4" width="3.6" height="3.6" fill="#fff" fill-opacity="0.55" stroke="#8e2046" stroke-width="1.25"/>
<path d="M426.4 244.5H458.5" stroke="#111" stroke-width="1.6"/>
<rect x="475.15" y="237.25" width="3.7" height="3.7" fill="#27406a"/>
<rect x="481.25" y="238.85" width="3.7" height="3.7" fill="#27406a"/>
<rect x="486.65" y="239.65" width="3.7" height="3.7" fill="#27406a"/>
<rect x="492.25" y="238.85" width="3.7" height="3.7" fill="#27406a"/>
<rect x="497.25" y="238.25" width="3.7" height="3.7" fill="#27406a"/>
<rect x="492.25" y="241.65" width="3.7" height="3.7" fill="#27406a"/>
<rect x="481.25" y="244.25" width="3.7" height="3.7" fill="#27406a"/>
<rect x="486.65" y="244.25" width="3.7" height="3.7" fill="#27406a"/>
<rect x="492.25" y="244.25" width="3.7" height="3.7" fill="#27406a"/>
<rect x="481.25" y="247.65" width="3.7" height="3.7" fill="#27406a"/>
<rect x="492.25" y="249.65" width="3.7" height="3.7" fill="#27406a"/>
<rect x="486.65" y="251.65" width="3.7" height="3.7" fill="#27406a"/>
<rect x="475.15" y="254.25" width="3.7" height="3.7" fill="#27406a"/>
<rect x="481.25" y="258.25" width="3.7" height="3.7" fill="#27406a"/>
<rect x="486.65" y="257.65" width="3.7" height="3.7" fill="#27406a"/>
<rect x="492.25" y="256.85" width="3.7" height="3.7" fill="#27406a"/>
<rect x="481.25" y="262.95" width="3.7" height="3.7" fill="#27406a"/>
<rect x="486.65" y="266.95" width="3.7" height="3.7" fill="#27406a"/>
<rect x="492.25" y="265.35" width="3.7" height="3.7" fill="#27406a"/>
<path d="M472 246.7H504.2" stroke="#111" stroke-width="1.6"/>
<rect x="0" y="0" width="520" height="1.5" fill="#000"/><rect x="0" y="0" width="1.6" height="323" fill="#000"/><rect x="518.5" y="0" width="1.5" height="323" fill="#000"/><rect x="0" y="321.5" width="520" height="1.5" fill="#000"/>
</svg></body></html>
